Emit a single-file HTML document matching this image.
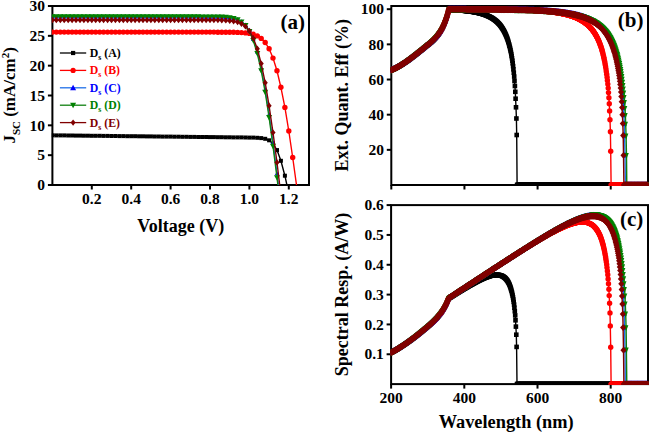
<!DOCTYPE html>
<html><head><meta charset="utf-8"><style>html,body{margin:0;padding:0;background:#fff;width:649px;height:433px;overflow:hidden}svg{display:block}</style></head>
<body><svg width="649" height="433" viewBox="0 0 649 433">
<rect width="649" height="433" fill="#fff"/>
<defs><clipPath id="ca"><rect x="51.8" y="1" width="597.2" height="184.8"/></clipPath><clipPath id="cb"><rect x="390.7" y="1" width="258.3" height="184.8"/></clipPath><clipPath id="cc"><rect x="390.5" y="200.1" width="258.5" height="184.8"/></clipPath><marker id="mA" markerUnits="userSpaceOnUse" markerWidth="6.6" markerHeight="6.6" refX="3.3" refY="3.3" overflow="visible"><rect x="1" y="1" width="4.6" height="4.6" fill="#000000"/></marker><marker id="maA" markerUnits="userSpaceOnUse" markerWidth="6" markerHeight="6" refX="3" refY="3" overflow="visible"><rect x="1" y="1" width="4" height="4" fill="#000000"/></marker><marker id="mB" markerUnits="userSpaceOnUse" markerWidth="7.4" markerHeight="7.4" refX="3.7" refY="3.7" overflow="visible"><circle cx="3.7" cy="3.7" r="2.7" fill="#ff0000"/></marker><marker id="maB" markerUnits="userSpaceOnUse" markerWidth="7.4" markerHeight="7.4" refX="3.7" refY="3.7" overflow="visible"><circle cx="3.7" cy="3.7" r="2.7" fill="#ff0000"/></marker><marker id="mC" markerUnits="userSpaceOnUse" markerWidth="9.2" markerHeight="9.2" refX="4.6" refY="4.6" overflow="visible"><path d="M4.6 1L6.83 6.76L2.37 6.76Z" fill="#0000ff"/></marker><marker id="maC" markerUnits="userSpaceOnUse" markerWidth="6.6" markerHeight="6.6" refX="3.3" refY="3.3" overflow="visible"><path d="M3.3 1L5.6 5.14L1 5.14Z" fill="#0000ff"/></marker><marker id="mD" markerUnits="userSpaceOnUse" markerWidth="9.4" markerHeight="9.4" refX="4.7" refY="4.7" overflow="visible"><path d="M4.7 8.4L6.99 2.48L2.41 2.48Z" fill="#008000"/></marker><marker id="maD" markerUnits="userSpaceOnUse" markerWidth="8" markerHeight="8" refX="4" refY="4" overflow="visible"><path d="M4 7L7 1.6L1 1.6Z" fill="#008000"/></marker><marker id="mE" markerUnits="userSpaceOnUse" markerWidth="8.8" markerHeight="8.8" refX="4.4" refY="4.4" overflow="visible"><path d="M4.4 1L7.46 4.4L4.4 7.8L1.34 4.4Z" fill="#800000"/></marker><marker id="maE" markerUnits="userSpaceOnUse" markerWidth="8.4" markerHeight="8.4" refX="4.2" refY="4.2" overflow="visible"><path d="M4.2 1L6.76 4.2L4.2 7.4L1.64 4.2Z" fill="#800000"/></marker></defs>
<rect x="52.4" y="6.0" width="256.6" height="179" fill="none" stroke="#000" stroke-width="2"/>
<rect x="391.3" y="6.0" width="256.7" height="179" fill="none" stroke="#000" stroke-width="2"/>
<rect x="391.1" y="205.1" width="256.9" height="179" fill="none" stroke="#000" stroke-width="2"/>
<line x1="47.9" y1="185" x2="52.4" y2="185" stroke="#000" stroke-width="2"/>
<text x="45.1" y="190.2" text-anchor="end" style="font-family:'Liberation Serif',serif;font-weight:bold;font-size:15.5px">0</text>
<line x1="47.9" y1="155.17" x2="52.4" y2="155.17" stroke="#000" stroke-width="2"/>
<text x="45.1" y="160.37" text-anchor="end" style="font-family:'Liberation Serif',serif;font-weight:bold;font-size:15.5px">5</text>
<line x1="47.9" y1="125.33" x2="52.4" y2="125.33" stroke="#000" stroke-width="2"/>
<text x="45.1" y="130.53" text-anchor="end" style="font-family:'Liberation Serif',serif;font-weight:bold;font-size:15.5px">10</text>
<line x1="47.9" y1="95.5" x2="52.4" y2="95.5" stroke="#000" stroke-width="2"/>
<text x="45.1" y="100.7" text-anchor="end" style="font-family:'Liberation Serif',serif;font-weight:bold;font-size:15.5px">15</text>
<line x1="47.9" y1="65.67" x2="52.4" y2="65.67" stroke="#000" stroke-width="2"/>
<text x="45.1" y="70.87" text-anchor="end" style="font-family:'Liberation Serif',serif;font-weight:bold;font-size:15.5px">20</text>
<line x1="47.9" y1="35.83" x2="52.4" y2="35.83" stroke="#000" stroke-width="2"/>
<text x="45.1" y="41.03" text-anchor="end" style="font-family:'Liberation Serif',serif;font-weight:bold;font-size:15.5px">25</text>
<line x1="47.9" y1="6" x2="52.4" y2="6" stroke="#000" stroke-width="2"/>
<text x="45.1" y="11.2" text-anchor="end" style="font-family:'Liberation Serif',serif;font-weight:bold;font-size:15.5px">30</text>
<line x1="91.8" y1="185.0" x2="91.8" y2="189.5" stroke="#000" stroke-width="2"/>
<text x="91.8" y="204.2" text-anchor="middle" style="font-family:'Liberation Serif',serif;font-weight:bold;font-size:15.5px">0.2</text>
<line x1="131.2" y1="185.0" x2="131.2" y2="189.5" stroke="#000" stroke-width="2"/>
<text x="131.2" y="204.2" text-anchor="middle" style="font-family:'Liberation Serif',serif;font-weight:bold;font-size:15.5px">0.4</text>
<line x1="170.6" y1="185.0" x2="170.6" y2="189.5" stroke="#000" stroke-width="2"/>
<text x="170.6" y="204.2" text-anchor="middle" style="font-family:'Liberation Serif',serif;font-weight:bold;font-size:15.5px">0.6</text>
<line x1="210" y1="185.0" x2="210" y2="189.5" stroke="#000" stroke-width="2"/>
<text x="210" y="204.2" text-anchor="middle" style="font-family:'Liberation Serif',serif;font-weight:bold;font-size:15.5px">0.8</text>
<line x1="249.4" y1="185.0" x2="249.4" y2="189.5" stroke="#000" stroke-width="2"/>
<text x="249.4" y="204.2" text-anchor="middle" style="font-family:'Liberation Serif',serif;font-weight:bold;font-size:15.5px">1.0</text>
<line x1="288.8" y1="185.0" x2="288.8" y2="189.5" stroke="#000" stroke-width="2"/>
<text x="288.8" y="204.2" text-anchor="middle" style="font-family:'Liberation Serif',serif;font-weight:bold;font-size:15.5px">1.2</text>
<line x1="386.8" y1="149.84" x2="391.3" y2="149.84" stroke="#000" stroke-width="2"/>
<text x="384" y="155.04" text-anchor="end" style="font-family:'Liberation Serif',serif;font-weight:bold;font-size:15.5px">20</text>
<line x1="386.8" y1="114.68" x2="391.3" y2="114.68" stroke="#000" stroke-width="2"/>
<text x="384" y="119.88" text-anchor="end" style="font-family:'Liberation Serif',serif;font-weight:bold;font-size:15.5px">40</text>
<line x1="386.8" y1="79.52" x2="391.3" y2="79.52" stroke="#000" stroke-width="2"/>
<text x="384" y="84.72" text-anchor="end" style="font-family:'Liberation Serif',serif;font-weight:bold;font-size:15.5px">60</text>
<line x1="386.8" y1="44.36" x2="391.3" y2="44.36" stroke="#000" stroke-width="2"/>
<text x="384" y="49.56" text-anchor="end" style="font-family:'Liberation Serif',serif;font-weight:bold;font-size:15.5px">80</text>
<line x1="386.8" y1="9.2" x2="391.3" y2="9.2" stroke="#000" stroke-width="2"/>
<text x="384" y="14.4" text-anchor="end" style="font-family:'Liberation Serif',serif;font-weight:bold;font-size:15.5px">100</text>
<line x1="391.3" y1="185.0" x2="391.3" y2="189.5" stroke="#000" stroke-width="2"/>
<line x1="464.44" y1="185.0" x2="464.44" y2="189.5" stroke="#000" stroke-width="2"/>
<line x1="537.59" y1="185.0" x2="537.59" y2="189.5" stroke="#000" stroke-width="2"/>
<line x1="610.73" y1="185.0" x2="610.73" y2="189.5" stroke="#000" stroke-width="2"/>
<line x1="386.6" y1="354.27" x2="391.1" y2="354.27" stroke="#000" stroke-width="2"/>
<text x="383.8" y="359.47" text-anchor="end" style="font-family:'Liberation Serif',serif;font-weight:bold;font-size:15.5px">0.1</text>
<line x1="386.6" y1="324.43" x2="391.1" y2="324.43" stroke="#000" stroke-width="2"/>
<text x="383.8" y="329.63" text-anchor="end" style="font-family:'Liberation Serif',serif;font-weight:bold;font-size:15.5px">0.2</text>
<line x1="386.6" y1="294.6" x2="391.1" y2="294.6" stroke="#000" stroke-width="2"/>
<text x="383.8" y="299.8" text-anchor="end" style="font-family:'Liberation Serif',serif;font-weight:bold;font-size:15.5px">0.3</text>
<line x1="386.6" y1="264.77" x2="391.1" y2="264.77" stroke="#000" stroke-width="2"/>
<text x="383.8" y="269.97" text-anchor="end" style="font-family:'Liberation Serif',serif;font-weight:bold;font-size:15.5px">0.4</text>
<line x1="386.6" y1="234.93" x2="391.1" y2="234.93" stroke="#000" stroke-width="2"/>
<text x="383.8" y="240.13" text-anchor="end" style="font-family:'Liberation Serif',serif;font-weight:bold;font-size:15.5px">0.5</text>
<line x1="386.6" y1="205.1" x2="391.1" y2="205.1" stroke="#000" stroke-width="2"/>
<text x="383.8" y="210.3" text-anchor="end" style="font-family:'Liberation Serif',serif;font-weight:bold;font-size:15.5px">0.6</text>
<line x1="391.1" y1="384.1" x2="391.1" y2="388.6" stroke="#000" stroke-width="2"/>
<text x="391.1" y="403.3" text-anchor="middle" style="font-family:'Liberation Serif',serif;font-weight:bold;font-size:15.5px">200</text>
<line x1="464.3" y1="384.1" x2="464.3" y2="388.6" stroke="#000" stroke-width="2"/>
<text x="464.3" y="403.3" text-anchor="middle" style="font-family:'Liberation Serif',serif;font-weight:bold;font-size:15.5px">400</text>
<line x1="537.5" y1="384.1" x2="537.5" y2="388.6" stroke="#000" stroke-width="2"/>
<text x="537.5" y="403.3" text-anchor="middle" style="font-family:'Liberation Serif',serif;font-weight:bold;font-size:15.5px">600</text>
<line x1="610.7" y1="384.1" x2="610.7" y2="388.6" stroke="#000" stroke-width="2"/>
<text x="610.7" y="403.3" text-anchor="middle" style="font-family:'Liberation Serif',serif;font-weight:bold;font-size:15.5px">800</text>
<g clip-path="url(#ca)">
<path d="M52.4 135.3 56.3 135.4 60.3 135.4 64.2 135.4 68.2 135.5 72.1 135.5 76 135.6 80 135.6 83.9 135.7 87.9 135.7 91.8 135.8 95.7 135.8 99.7 135.8 103.6 135.9 107.6 135.9 111.5 136 115.4 136 119.4 136.1 123.3 136.1 127.3 136.2 131.2 136.2 135.1 136.2 139.1 136.3 143 136.3 147 136.4 150.9 136.4 154.8 136.5 158.8 136.5 162.7 136.6 166.7 136.6 170.6 136.6 174.5 136.7 178.5 136.7 182.4 136.8 186.4 136.8 190.3 136.9 194.2 136.9 198.2 137 202.1 137 206.1 137 210 137.1 213.9 137.1 217.9 137.2 221.8 137.2 225.8 137.3 229.7 137.3 233.6 137.4 237.6 137.4 241.5 137.4 245.5 137.5 249.4 137.6 253.3 137.6 257.3 137.8 261.2 138.1 265.2 138.8 269.1 140.3 273 143.7 277 150.1 280.9 160.8 284.9 175.7 286.9 185" fill="none" stroke="#000000" stroke-width="1.4" marker-start="url(#maA)" marker-mid="url(#maA)"/>
<path d="M52.4 32.1 56.3 32.1 60.3 32.1 64.2 32.1 68.2 32.1 72.1 32.1 76 32.1 80 32.1 83.9 32.1 87.9 32.1 91.8 32.1 95.7 32.1 99.7 32.1 103.6 32.1 107.6 32.1 111.5 32.1 115.4 32.1 119.4 32.1 123.3 32.1 127.3 32.1 131.2 32.1 135.1 32.1 139.1 32.1 143 32.1 147 32.1 150.9 32.1 154.8 32.1 158.8 32.1 162.7 32.1 166.7 32.1 170.6 32.1 174.5 32.1 178.5 32.1 182.4 32.1 186.4 32.1 190.3 32.1 194.2 32.1 198.2 32.1 202.1 32.1 206.1 32.1 210 32.1 213.9 32.1 217.9 32.2 221.8 32.2 225.8 32.2 229.7 32.2 233.6 32.3 237.6 32.4 241.5 32.6 245.5 32.9 249.4 33.4 253.3 34.3 257.3 35.9 261.2 38.4 265.2 42.5 269.1 48.8 273 58.1 277 70.8 280.9 87.3 284.9 107.4 288.8 131 292.7 157.5 296.5 185" fill="none" stroke="#ff0000" stroke-width="1.4" marker-start="url(#maB)" marker-mid="url(#maB)"/>
<path d="M52.4 16.7 56.3 16.7 60.3 16.7 64.2 16.7 68.2 16.7 72.1 16.7 76 16.7 80 16.7 83.9 16.7 87.9 16.7 91.8 16.7 95.7 16.7 99.7 16.7 103.6 16.7 107.6 16.7 111.5 16.7 115.4 16.7 119.4 16.7 123.3 16.7 127.3 16.7 131.2 16.7 135.1 16.7 139.1 16.7 143 16.7 147 16.7 150.9 16.7 154.8 16.7 158.8 16.7 162.7 16.7 166.7 16.7 170.6 16.7 174.5 16.7 178.5 16.7 182.4 16.7 186.4 16.7 190.3 16.7 194.2 16.7 198.2 16.7 202.1 16.8 206.1 16.8 210 16.8 213.9 16.8 217.9 16.9 221.8 17 225.8 17.2 229.7 17.6 233.6 18.2 237.6 19.4 241.5 21.5 245.5 24.9 249.4 30.5 253.3 39.2 257.3 51.6 261.2 68.3 265.2 89.3 269.1 114.2 273 142.4 277 173.5 278.4 185" fill="none" stroke="#1f6fe8" stroke-width="1.4" marker-start="url(#maC)" marker-mid="url(#maC)"/>
<path d="M52.4 16.7 56.3 16.7 60.3 16.7 64.2 16.7 68.2 16.7 72.1 16.7 76 16.7 80 16.7 83.9 16.7 87.9 16.7 91.8 16.7 95.7 16.7 99.7 16.7 103.6 16.7 107.6 16.7 111.5 16.7 115.4 16.7 119.4 16.7 123.3 16.7 127.3 16.7 131.2 16.7 135.1 16.7 139.1 16.7 143 16.7 147 16.7 150.9 16.7 154.8 16.7 158.8 16.7 162.7 16.7 166.7 16.7 170.6 16.7 174.5 16.7 178.5 16.7 182.4 16.7 186.4 16.7 190.3 16.7 194.2 16.7 198.2 16.7 202.1 16.8 206.1 16.8 210 16.8 213.9 16.8 217.9 16.9 221.8 17 225.8 17.2 229.7 17.6 233.6 18.4 237.6 19.6 241.5 21.8 245.5 25.5 249.4 31.4 253.3 40.5 257.3 53.5 261.2 70.7 265.2 92.2 269.1 117.5 273 146.2 277 177.6 277.9 185" fill="none" stroke="#108010" stroke-width="1.4" marker-start="url(#maD)" marker-mid="url(#maD)"/>
<path d="M52.4 20 56.3 20 60.3 20 64.2 20 68.2 20 72.1 20 76 20 80 20 83.9 20 87.9 20 91.8 20 95.7 20 99.7 20 103.6 20 107.6 20 111.5 20 115.4 20 119.4 20 123.3 20 127.3 20 131.2 20 135.1 20 139.1 20 143 20 147 20 150.9 20 154.8 20 158.8 20 162.7 20 166.7 20 170.6 20 174.5 20 178.5 20 182.4 20 186.4 20 190.3 20 194.2 20 198.2 20 202.1 20 206.1 20 210 20.1 213.9 20.1 217.9 20.1 221.8 20.2 225.8 20.4 229.7 20.7 233.6 21.2 237.6 22.1 241.5 23.7 245.5 26.4 249.4 30.9 253.3 38.1 257.3 48.8 261.2 63.6 265.2 82.7 269.1 105.8 273 132.6 277 162.5 279.7 185" fill="none" stroke="#800000" stroke-width="1.4" marker-start="url(#maE)" marker-mid="url(#maE)"/>
</g>
<g clip-path="url(#cb)">
<path d="M391.3 70 391.7 69.9 392 69.7 392.4 69.6 392.8 69.4 393.1 69.3 393.5 69.1 393.9 68.9 394.2 68.8 394.6 68.6 395 68.4 395.3 68.2 395.7 68 396.1 67.9 396.4 67.7 396.8 67.5 397.2 67.3 397.5 67.1 397.9 66.9 398.2 66.7 398.6 66.5 399 66.3 399.3 66.1 399.7 65.8 400.1 65.6 400.4 65.4 400.8 65.2 401.2 65 401.5 64.7 401.9 64.5 402.3 64.3 402.6 64.1 403 63.8 403.4 63.6 403.7 63.3 404.1 63.1 404.5 62.9 404.8 62.6 405.2 62.4 405.6 62.1 405.9 61.9 406.3 61.6 406.7 61.4 407 61.1 407.4 60.9 407.8 60.6 408.1 60.3 408.5 60.1 408.9 59.8 409.2 59.5 409.6 59.3 410 59 410.3 58.7 410.7 58.5 411 58.2 411.4 57.9 411.8 57.6 412.1 57.4 412.5 57.1 412.9 56.8 413.2 56.5 413.6 56.2 414 56 414.3 55.7 414.7 55.4 415.1 55.1 415.4 54.8 415.8 54.5 416.2 54.2 416.5 54 416.9 53.7 417.3 53.4 417.6 53.1 418 52.8 418.4 52.5 418.7 52.2 419.1 51.9 419.5 51.6 419.8 51.3 420.2 51 420.6 50.7 420.9 50.5 421.3 50.2 421.7 49.9 422 49.6 422.4 49.3 422.8 49 423.1 48.7 423.5 48.4 423.8 48.1 424.2 47.8 424.6 47.5 424.9 47.2 425.3 46.9 425.7 46.6 426 46.3 426.4 46 426.8 45.7 427.1 45.4 427.5 45.1 427.9 44.8 428.2 44.6 428.6 44.3 429 44 429.3 43.7 429.7 43.4 430.1 43.1 430.4 42.7 430.8 42.4 431.2 42.1 431.5 41.8 431.9 41.5 432.3 41.1 432.6 40.8 433 40.5 433.4 40.1 433.7 39.8 434.1 39.4 434.5 39 434.8 38.6 435.2 38.2 435.6 37.8 435.9 37.4 436.3 37 436.6 36.6 437 36.2 437.4 35.7 437.7 35.3 438.1 34.8 438.5 34.3 438.8 33.8 439.2 33.3 439.6 32.8 439.9 32.2 440.3 31.6 440.7 31.1 441 30.5 441.4 29.8 441.8 29.2 442.1 28.5 442.5 27.8 442.9 27.1 443.2 26.3 443.6 25.5 444 24.7 444.3 23.8 444.7 23 445.1 22 445.4 21.1 445.8 20.1 446.2 19 446.5 18 446.9 16.8 447.3 15.6 447.6 14.3 448 13 448.4 11.5 448.7 9.8 449.1 9.8 449.4 9.8 449.8 9.8 450.2 9.9 450.5 9.9 450.9 9.9 451.3 9.9 451.6 9.9 452 9.9 452.4 10 452.7 10 453.1 10 453.5 10 453.8 10 454.2 10 454.6 10.1 454.9 10.1 455.3 10.1 455.7 10.1 456 10.1 456.4 10.2 456.8 10.2 457.1 10.2 457.5 10.2 457.9 10.3 458.2 10.3 458.6 10.3 459 10.3 459.3 10.4 459.7 10.4 460.1 10.4 460.4 10.4 460.8 10.5 461.2 10.5 461.5 10.5 461.9 10.6 462.2 10.6 462.6 10.6 463 10.6 463.3 10.7 463.7 10.7 464.1 10.7 464.4 10.8 464.8 10.8 465.2 10.9 465.5 10.9 465.9 10.9 466.3 11 466.6 11 467 11 467.4 11.1 467.7 11.1 468.1 11.2 468.5 11.2 468.8 11.3 469.2 11.3 469.6 11.4 469.9 11.4 470.3 11.5 470.7 11.5 471 11.6 471.4 11.6 471.8 11.7 472.1 11.7 472.5 11.8 472.9 11.8 473.2 11.9 473.6 12 474 12 474.3 12.1 474.7 12.2 475 12.2 475.4 12.3 475.8 12.4 476.1 12.4 476.5 12.5 476.9 12.6 477.2 12.7 477.6 12.7 478 12.8 478.3 12.9 478.7 13 479.1 13.1 479.4 13.2 479.8 13.2 480.2 13.3 480.5 13.4 480.9 13.5 481.3 13.6 481.6 13.7 482 13.8 482.4 14 482.7 14.1 483.1 14.2 483.5 14.3 483.8 14.4 484.2 14.5 484.6 14.7 484.9 14.8 485.3 14.9 485.7 15.1 486 15.2 486.4 15.3 486.8 15.5 487.1 15.6 487.5 15.8 487.8 16 488.2 16.1 488.6 16.3 488.9 16.5 489.3 16.6 489.7 16.8 490 17 490.4 17.2 490.8 17.4 491.1 17.6 491.5 17.8 491.9 18 492.2 18.2 492.6 18.5 493 18.7 493.3 19 493.7 19.2 494.1 19.5 494.4 19.7 494.8 20 495.2 20.3 495.5 20.6 495.9 20.9 496.3 21.2 496.6 21.5 497 21.8 497.4 22.2 497.7 22.5 498.1 22.9 498.5 23.3 498.8 23.7 499.2 24.1 499.6 24.5 499.9 24.9 500.3 25.4 500.6 25.8 501 26.3 501.4 26.8 501.7 27.4 502.1 27.9 502.5 28.5 502.8 29 503.2 29.7 503.6 30.3 503.9 31 504.3 31.6 504.7 32.4 505 33.1 505.4 33.9 505.8 34.7 506.1 35.6 506.5 36.5 506.9 37.4 507.2 38.4 507.6 39.5 508 40.6 508.3 41.8 508.7 43 509.1 44.3 509.4 45.7 509.8 47.1 510.2 48.7 510.5 50.4 510.9 52.1 511.3 54 511.6 56.1 512 58.3 512.4 60.7 512.7 63.3 513.1 66.1 513.4 69.3 513.8 72.7 514.2 76.6 514.5 81 514.9 86 515.3 91.8 515.6 98.7 516 107.3 516.4 118.5 516.7 135 517.1 185 517.5 185 517.8 185 518.2 185 518.6 185 518.9 185 519.3 185 519.7 185 520 185 520.4 185 520.8 185 521.1 185 521.5 185 521.9 185 522.2 185 522.6 185 523 185 523.3 185 523.7 185 524.1 185 524.4 185 524.8 185 525.2 185 525.5 185 525.9 185 526.2 185 526.6 185 527 185 527.3 185 527.7 185 528.1 185 528.4 185 528.8 185 529.2 185 529.5 185 529.9 185 530.3 185 530.6 185 531 185 531.4 185 531.7 185 532.1 185 532.5 185 532.8 185 533.2 185 533.6 185 533.9 185 534.3 185 534.7 185 535 185 535.4 185 535.8 185 536.1 185 536.5 185 536.9 185 537.2 185 537.6 185 538 185 538.3 185 538.7 185 539 185 539.4 185 539.8 185 540.1 185 540.5 185 540.9 185 541.2 185 541.6 185 542 185 542.3 185 542.7 185 543.1 185 543.4 185 543.8 185 544.2 185 544.5 185 544.9 185 545.3 185 545.6 185 546 185 546.4 185 546.7 185 547.1 185 547.5 185 547.8 185 548.2 185 548.6 185 548.9 185 549.3 185 549.7 185 550 185 550.4 185 550.8 185 551.1 185 551.5 185 551.8 185 552.2 185 552.6 185 552.9 185 553.3 185 553.7 185 554 185 554.4 185 554.8 185 555.1 185 555.5 185 555.9 185 556.2 185 556.6 185 557 185 557.3 185 557.7 185 558.1 185 558.4 185 558.8 185 559.2 185 559.5 185 559.9 185 560.3 185 560.6 185 561 185 561.4 185 561.7 185 562.1 185 562.5 185 562.8 185 563.2 185 563.6 185 563.9 185 564.3 185 564.6 185 565 185 565.4 185 565.7 185 566.1 185 566.5 185 566.8 185 567.2 185 567.6 185 567.9 185 568.3 185 568.7 185 569 185 569.4 185 569.8 185 570.1 185 570.5 185 570.9 185 571.2 185 571.6 185 572 185 572.3 185 572.7 185 573.1 185 573.4 185 573.8 185 574.2 185 574.5 185 574.9 185 575.3 185 575.6 185 576 185 576.4 185 576.7 185 577.1 185 577.4 185 577.8 185 578.2 185 578.5 185 578.9 185 579.3 185 579.6 185 580 185 580.4 185 580.7 185 581.1 185 581.5 185 581.8 185 582.2 185 582.6 185 582.9 185 583.3 185 583.7 185 584 185 584.4 185 584.8 185 585.1 185 585.5 185 585.9 185 586.2 185 586.6 185 587 185 587.3 185 587.7 185 588.1 185 588.4 185 588.8 185 589.2 185 589.5 185 589.9 185 590.2 185 590.6 185 591 185 591.3 185 591.7 185 592.1 185 592.4 185 592.8 185 593.2 185 593.5 185 593.9 185 594.3 185 594.6 185 595 185 595.4 185 595.7 185 596.1 185 596.5 185 596.8 185 597.2 185 597.6 185 597.9 185 598.3 185 598.7 185 599 185 599.4 185 599.8 185 600.1 185 600.5 185 600.9 185 601.2 185 601.6 185 602 185 602.3 185 602.7 185 603 185 603.4 185 603.8 185 604.1 185 604.5 185 604.9 185 605.2 185 605.6 185 606 185 606.3 185 606.7 185 607.1 185 607.4 185 607.8 185 608.2 185 608.5 185 608.9 185 609.3 185 609.6 185 610 185 610.4 185 610.7 185 611.1 185 611.5 185 611.8 185 612.2 185 612.6 185 612.9 185 613.3 185 613.7 185 614 185 614.4 185 614.8 185 615.1 185 615.5 185 615.8 185 616.2 185 616.6 185 616.9 185 617.3 185 617.7 185 618 185 618.4 185 618.8 185 619.1 185 619.5 185 619.9 185 620.2 185 620.6 185 621 185 621.3 185 621.7 185 622.1 185 622.4 185 622.8 185 623.2 185 623.5 185 623.9 185 624.3 185 624.6 185 625 185 625.4 185 625.7 185 626.1 185 626.5 185 626.8 185 627.2 185 627.6 185 627.9 185 628.3 185 628.6 185 629 185 629.4 185 629.7 185 630.1 185 630.5 185 630.8 185 631.2 185 631.6 185 631.9 185 632.3 185 632.7 185 633 185 633.4 185 633.8 185 634.1 185 634.5 185 634.9 185 635.2 185 635.6 185 636 185 636.3 185 636.7 185 637.1 185 637.4 185 637.8 185 638.2 185 638.5 185 638.9 185 639.3 185 639.6 185 640 185 640.4 185 640.7 185 641.1 185 641.4 185 641.8 185 642.2 185 642.5 185 642.9 185 643.3 185 643.6 185 644 185 644.4 185 644.7 185 645.1 185 645.5 185 645.8 185 646.2 185 646.6 185 646.9 185 647.3 185" fill="none" stroke="#000000" stroke-width="1.4" marker-start="url(#mA)" marker-mid="url(#mA)" marker-end="url(#mA)"/>
<path d="M391.3 70 391.7 69.9 392 69.7 392.4 69.6 392.8 69.4 393.1 69.3 393.5 69.1 393.9 68.9 394.2 68.8 394.6 68.6 395 68.4 395.3 68.2 395.7 68 396.1 67.9 396.4 67.7 396.8 67.5 397.2 67.3 397.5 67.1 397.9 66.9 398.2 66.7 398.6 66.5 399 66.3 399.3 66.1 399.7 65.8 400.1 65.6 400.4 65.4 400.8 65.2 401.2 65 401.5 64.7 401.9 64.5 402.3 64.3 402.6 64 403 63.8 403.4 63.6 403.7 63.3 404.1 63.1 404.5 62.8 404.8 62.6 405.2 62.4 405.6 62.1 405.9 61.9 406.3 61.6 406.7 61.3 407 61.1 407.4 60.8 407.8 60.6 408.1 60.3 408.5 60 408.9 59.8 409.2 59.5 409.6 59.2 410 59 410.3 58.7 410.7 58.4 411 58.2 411.4 57.9 411.8 57.6 412.1 57.3 412.5 57.1 412.9 56.8 413.2 56.5 413.6 56.2 414 55.9 414.3 55.6 414.7 55.4 415.1 55.1 415.4 54.8 415.8 54.5 416.2 54.2 416.5 53.9 416.9 53.6 417.3 53.3 417.6 53 418 52.7 418.4 52.5 418.7 52.2 419.1 51.9 419.5 51.6 419.8 51.3 420.2 51 420.6 50.7 420.9 50.4 421.3 50.1 421.7 49.8 422 49.5 422.4 49.2 422.8 48.9 423.1 48.6 423.5 48.3 423.8 48 424.2 47.7 424.6 47.4 424.9 47.1 425.3 46.8 425.7 46.5 426 46.2 426.4 45.9 426.8 45.6 427.1 45.3 427.5 45 427.9 44.7 428.2 44.4 428.6 44.1 429 43.8 429.3 43.5 429.7 43.2 430.1 42.9 430.4 42.6 430.8 42.3 431.2 42 431.5 41.6 431.9 41.3 432.3 41 432.6 40.6 433 40.3 433.4 39.9 433.7 39.6 434.1 39.2 434.5 38.8 434.8 38.4 435.2 38 435.6 37.6 435.9 37.2 436.3 36.8 436.6 36.4 437 35.9 437.4 35.5 437.7 35 438.1 34.5 438.5 34 438.8 33.5 439.2 33 439.6 32.5 439.9 31.9 440.3 31.4 440.7 30.8 441 30.1 441.4 29.5 441.8 28.9 442.1 28.2 442.5 27.5 442.9 26.7 443.2 25.9 443.6 25.1 444 24.3 444.3 23.4 444.7 22.5 445.1 21.6 445.4 20.6 445.8 19.6 446.2 18.6 446.5 17.5 446.9 16.3 447.3 15.1 447.6 13.8 448 12.4 448.4 10.9 448.7 9.2 449.1 9.2 449.4 9.2 449.8 9.2 450.2 9.2 450.5 9.2 450.9 9.2 451.3 9.2 451.6 9.2 452 9.2 452.4 9.2 452.7 9.2 453.1 9.2 453.5 9.2 453.8 9.2 454.2 9.2 454.6 9.2 454.9 9.2 455.3 9.2 455.7 9.2 456 9.2 456.4 9.2 456.8 9.2 457.1 9.2 457.5 9.2 457.9 9.2 458.2 9.2 458.6 9.2 459 9.2 459.3 9.2 459.7 9.2 460.1 9.2 460.4 9.2 460.8 9.2 461.2 9.2 461.5 9.2 461.9 9.2 462.2 9.2 462.6 9.2 463 9.2 463.3 9.2 463.7 9.2 464.1 9.2 464.4 9.2 464.8 9.2 465.2 9.2 465.5 9.3 465.9 9.3 466.3 9.3 466.6 9.3 467 9.3 467.4 9.3 467.7 9.3 468.1 9.3 468.5 9.3 468.8 9.3 469.2 9.3 469.6 9.3 469.9 9.3 470.3 9.3 470.7 9.3 471 9.3 471.4 9.3 471.8 9.3 472.1 9.3 472.5 9.3 472.9 9.3 473.2 9.3 473.6 9.3 474 9.3 474.3 9.3 474.7 9.3 475 9.3 475.4 9.3 475.8 9.3 476.1 9.3 476.5 9.3 476.9 9.3 477.2 9.3 477.6 9.3 478 9.3 478.3 9.3 478.7 9.3 479.1 9.3 479.4 9.3 479.8 9.3 480.2 9.3 480.5 9.3 480.9 9.3 481.3 9.3 481.6 9.3 482 9.3 482.4 9.3 482.7 9.3 483.1 9.3 483.5 9.3 483.8 9.3 484.2 9.3 484.6 9.3 484.9 9.3 485.3 9.3 485.7 9.3 486 9.3 486.4 9.3 486.8 9.4 487.1 9.4 487.5 9.4 487.8 9.4 488.2 9.4 488.6 9.4 488.9 9.4 489.3 9.4 489.7 9.4 490 9.4 490.4 9.4 490.8 9.4 491.1 9.4 491.5 9.4 491.9 9.4 492.2 9.4 492.6 9.4 493 9.4 493.3 9.4 493.7 9.4 494.1 9.4 494.4 9.4 494.8 9.4 495.2 9.4 495.5 9.4 495.9 9.4 496.3 9.4 496.6 9.4 497 9.4 497.4 9.5 497.7 9.5 498.1 9.5 498.5 9.5 498.8 9.5 499.2 9.5 499.6 9.5 499.9 9.5 500.3 9.5 500.6 9.5 501 9.5 501.4 9.5 501.7 9.5 502.1 9.5 502.5 9.5 502.8 9.5 503.2 9.5 503.6 9.5 503.9 9.5 504.3 9.6 504.7 9.6 505 9.6 505.4 9.6 505.8 9.6 506.1 9.6 506.5 9.6 506.9 9.6 507.2 9.6 507.6 9.6 508 9.6 508.3 9.6 508.7 9.6 509.1 9.6 509.4 9.6 509.8 9.7 510.2 9.7 510.5 9.7 510.9 9.7 511.3 9.7 511.6 9.7 512 9.7 512.4 9.7 512.7 9.7 513.1 9.7 513.4 9.7 513.8 9.7 514.2 9.7 514.5 9.8 514.9 9.8 515.3 9.8 515.6 9.8 516 9.8 516.4 9.8 516.7 9.8 517.1 9.8 517.5 9.8 517.8 9.8 518.2 9.9 518.6 9.9 518.9 9.9 519.3 9.9 519.7 9.9 520 9.9 520.4 9.9 520.8 9.9 521.1 9.9 521.5 10 521.9 10 522.2 10 522.6 10 523 10 523.3 10 523.7 10 524.1 10 524.4 10.1 524.8 10.1 525.2 10.1 525.5 10.1 525.9 10.1 526.2 10.1 526.6 10.1 527 10.2 527.3 10.2 527.7 10.2 528.1 10.2 528.4 10.2 528.8 10.2 529.2 10.3 529.5 10.3 529.9 10.3 530.3 10.3 530.6 10.3 531 10.3 531.4 10.4 531.7 10.4 532.1 10.4 532.5 10.4 532.8 10.4 533.2 10.5 533.6 10.5 533.9 10.5 534.3 10.5 534.7 10.5 535 10.6 535.4 10.6 535.8 10.6 536.1 10.6 536.5 10.7 536.9 10.7 537.2 10.7 537.6 10.7 538 10.7 538.3 10.8 538.7 10.8 539 10.8 539.4 10.8 539.8 10.9 540.1 10.9 540.5 10.9 540.9 11 541.2 11 541.6 11 542 11 542.3 11.1 542.7 11.1 543.1 11.1 543.4 11.2 543.8 11.2 544.2 11.2 544.5 11.3 544.9 11.3 545.3 11.3 545.6 11.4 546 11.4 546.4 11.4 546.7 11.5 547.1 11.5 547.5 11.5 547.8 11.6 548.2 11.6 548.6 11.6 548.9 11.7 549.3 11.7 549.7 11.8 550 11.8 550.4 11.9 550.8 11.9 551.1 11.9 551.5 12 551.8 12 552.2 12.1 552.6 12.1 552.9 12.2 553.3 12.2 553.7 12.3 554 12.3 554.4 12.4 554.8 12.4 555.1 12.5 555.5 12.5 555.9 12.6 556.2 12.6 556.6 12.7 557 12.7 557.3 12.8 557.7 12.9 558.1 12.9 558.4 13 558.8 13 559.2 13.1 559.5 13.2 559.9 13.2 560.3 13.3 560.6 13.4 561 13.4 561.4 13.5 561.7 13.6 562.1 13.7 562.5 13.7 562.8 13.8 563.2 13.9 563.6 14 563.9 14 564.3 14.1 564.6 14.2 565 14.3 565.4 14.4 565.7 14.5 566.1 14.6 566.5 14.6 566.8 14.7 567.2 14.8 567.6 14.9 567.9 15 568.3 15.1 568.7 15.2 569 15.3 569.4 15.4 569.8 15.5 570.1 15.7 570.5 15.8 570.9 15.9 571.2 16 571.6 16.1 572 16.2 572.3 16.4 572.7 16.5 573.1 16.6 573.4 16.7 573.8 16.9 574.2 17 574.5 17.2 574.9 17.3 575.3 17.4 575.6 17.6 576 17.7 576.4 17.9 576.7 18.1 577.1 18.2 577.4 18.4 577.8 18.6 578.2 18.7 578.5 18.9 578.9 19.1 579.3 19.3 579.6 19.5 580 19.7 580.4 19.9 580.7 20.1 581.1 20.3 581.5 20.5 581.8 20.7 582.2 20.9 582.6 21.1 582.9 21.4 583.3 21.6 583.7 21.8 584 22.1 584.4 22.4 584.8 22.6 585.1 22.9 585.5 23.2 585.9 23.4 586.2 23.7 586.6 24 587 24.3 587.3 24.6 587.7 25 588.1 25.3 588.4 25.6 588.8 26 589.2 26.3 589.5 26.7 589.9 27.1 590.2 27.5 590.6 27.9 591 28.3 591.3 28.7 591.7 29.1 592.1 29.6 592.4 30 592.8 30.5 593.2 31 593.5 31.5 593.9 32 594.3 32.6 594.6 33.1 595 33.7 595.4 34.3 595.7 34.9 596.1 35.6 596.5 36.2 596.8 36.9 597.2 37.6 597.6 38.4 597.9 39.1 598.3 39.9 598.7 40.8 599 41.6 599.4 42.5 599.8 43.4 600.1 44.4 600.5 45.4 600.9 46.5 601.2 47.6 601.6 48.8 602 50 602.3 51.3 602.7 52.6 603 54.1 603.4 55.6 603.8 57.2 604.1 58.8 604.5 60.6 604.9 62.5 605.2 64.6 605.6 66.7 606 69.1 606.3 71.6 606.7 74.3 607.1 77.3 607.4 80.5 607.8 84.1 608.2 88.1 608.5 92.6 608.9 97.8 609.3 103.8 609.6 110.9 610 119.8 610.4 131.8 610.7 151.3 611.1 185 611.5 185 611.8 185 612.2 185 612.6 185 612.9 185 613.3 185 613.7 185 614 185 614.4 185 614.8 185 615.1 185 615.5 185 615.8 185 616.2 185 616.6 185 616.9 185 617.3 185 617.7 185 618 185 618.4 185 618.8 185 619.1 185 619.5 185 619.9 185 620.2 185 620.6 185 621 185 621.3 185 621.7 185 622.1 185 622.4 185 622.8 185 623.2 185 623.5 185 623.9 185 624.3 185 624.6 185 625 185 625.4 185 625.7 185 626.1 185 626.5 185 626.8 185 627.2 185 627.6 185 627.9 185 628.3 185 628.6 185 629 185 629.4 185 629.7 185 630.1 185 630.5 185 630.8 185 631.2 185 631.6 185 631.9 185 632.3 185 632.7 185 633 185 633.4 185 633.8 185 634.1 185 634.5 185 634.9 185 635.2 185 635.6 185 636 185 636.3 185 636.7 185 637.1 185 637.4 185 637.8 185 638.2 185 638.5 185 638.9 185 639.3 185 639.6 185 640 185 640.4 185 640.7 185 641.1 185 641.4 185 641.8 185 642.2 185 642.5 185 642.9 185 643.3 185 643.6 185 644 185 644.4 185 644.7 185 645.1 185 645.5 185 645.8 185 646.2 185 646.6 185 646.9 185 647.3 185" fill="none" stroke="#ff0000" stroke-width="1.4" marker-start="url(#mB)" marker-mid="url(#mB)" marker-end="url(#mB)"/>
<path d="M391.3 70 391.7 69.9 392 69.7 392.4 69.6 392.8 69.4 393.1 69.3 393.5 69.1 393.9 68.9 394.2 68.8 394.6 68.6 395 68.4 395.3 68.2 395.7 68 396.1 67.9 396.4 67.7 396.8 67.5 397.2 67.3 397.5 67.1 397.9 66.9 398.2 66.7 398.6 66.5 399 66.3 399.3 66.1 399.7 65.8 400.1 65.6 400.4 65.4 400.8 65.2 401.2 65 401.5 64.7 401.9 64.5 402.3 64.3 402.6 64 403 63.8 403.4 63.6 403.7 63.3 404.1 63.1 404.5 62.8 404.8 62.6 405.2 62.4 405.6 62.1 405.9 61.9 406.3 61.6 406.7 61.3 407 61.1 407.4 60.8 407.8 60.6 408.1 60.3 408.5 60 408.9 59.8 409.2 59.5 409.6 59.2 410 59 410.3 58.7 410.7 58.4 411 58.2 411.4 57.9 411.8 57.6 412.1 57.3 412.5 57.1 412.9 56.8 413.2 56.5 413.6 56.2 414 55.9 414.3 55.6 414.7 55.4 415.1 55.1 415.4 54.8 415.8 54.5 416.2 54.2 416.5 53.9 416.9 53.6 417.3 53.3 417.6 53 418 52.7 418.4 52.5 418.7 52.2 419.1 51.9 419.5 51.6 419.8 51.3 420.2 51 420.6 50.7 420.9 50.4 421.3 50.1 421.7 49.8 422 49.5 422.4 49.2 422.8 48.9 423.1 48.6 423.5 48.3 423.8 48 424.2 47.7 424.6 47.4 424.9 47.1 425.3 46.8 425.7 46.5 426 46.2 426.4 45.9 426.8 45.6 427.1 45.3 427.5 45 427.9 44.7 428.2 44.4 428.6 44.1 429 43.8 429.3 43.5 429.7 43.2 430.1 42.9 430.4 42.6 430.8 42.3 431.2 42 431.5 41.6 431.9 41.3 432.3 41 432.6 40.6 433 40.3 433.4 39.9 433.7 39.6 434.1 39.2 434.5 38.8 434.8 38.4 435.2 38 435.6 37.6 435.9 37.2 436.3 36.8 436.6 36.4 437 35.9 437.4 35.5 437.7 35 438.1 34.5 438.5 34 438.8 33.5 439.2 33 439.6 32.5 439.9 31.9 440.3 31.4 440.7 30.8 441 30.1 441.4 29.5 441.8 28.9 442.1 28.2 442.5 27.5 442.9 26.7 443.2 25.9 443.6 25.1 444 24.3 444.3 23.4 444.7 22.5 445.1 21.6 445.4 20.6 445.8 19.6 446.2 18.6 446.5 17.5 446.9 16.3 447.3 15.1 447.6 13.8 448 12.4 448.4 10.9 448.7 9.2 449.1 9.2 449.4 9.2 449.8 9.2 450.2 9.2 450.5 9.2 450.9 9.2 451.3 9.2 451.6 9.2 452 9.2 452.4 9.2 452.7 9.2 453.1 9.2 453.5 9.2 453.8 9.2 454.2 9.2 454.6 9.2 454.9 9.2 455.3 9.2 455.7 9.2 456 9.2 456.4 9.2 456.8 9.2 457.1 9.2 457.5 9.2 457.9 9.2 458.2 9.2 458.6 9.2 459 9.2 459.3 9.2 459.7 9.2 460.1 9.2 460.4 9.2 460.8 9.2 461.2 9.2 461.5 9.2 461.9 9.2 462.2 9.2 462.6 9.2 463 9.2 463.3 9.2 463.7 9.2 464.1 9.2 464.4 9.2 464.8 9.2 465.2 9.2 465.5 9.2 465.9 9.2 466.3 9.2 466.6 9.3 467 9.3 467.4 9.3 467.7 9.3 468.1 9.3 468.5 9.3 468.8 9.3 469.2 9.3 469.6 9.3 469.9 9.3 470.3 9.3 470.7 9.3 471 9.3 471.4 9.3 471.8 9.3 472.1 9.3 472.5 9.3 472.9 9.3 473.2 9.3 473.6 9.3 474 9.3 474.3 9.3 474.7 9.3 475 9.3 475.4 9.3 475.8 9.3 476.1 9.3 476.5 9.3 476.9 9.3 477.2 9.3 477.6 9.3 478 9.3 478.3 9.3 478.7 9.3 479.1 9.3 479.4 9.3 479.8 9.3 480.2 9.3 480.5 9.3 480.9 9.3 481.3 9.3 481.6 9.3 482 9.3 482.4 9.3 482.7 9.3 483.1 9.3 483.5 9.3 483.8 9.3 484.2 9.3 484.6 9.3 484.9 9.3 485.3 9.3 485.7 9.3 486 9.3 486.4 9.3 486.8 9.3 487.1 9.3 487.5 9.3 487.8 9.3 488.2 9.3 488.6 9.3 488.9 9.4 489.3 9.4 489.7 9.4 490 9.4 490.4 9.4 490.8 9.4 491.1 9.4 491.5 9.4 491.9 9.4 492.2 9.4 492.6 9.4 493 9.4 493.3 9.4 493.7 9.4 494.1 9.4 494.4 9.4 494.8 9.4 495.2 9.4 495.5 9.4 495.9 9.4 496.3 9.4 496.6 9.4 497 9.4 497.4 9.4 497.7 9.4 498.1 9.4 498.5 9.4 498.8 9.4 499.2 9.4 499.6 9.4 499.9 9.4 500.3 9.5 500.6 9.5 501 9.5 501.4 9.5 501.7 9.5 502.1 9.5 502.5 9.5 502.8 9.5 503.2 9.5 503.6 9.5 503.9 9.5 504.3 9.5 504.7 9.5 505 9.5 505.4 9.5 505.8 9.5 506.1 9.5 506.5 9.5 506.9 9.5 507.2 9.5 507.6 9.5 508 9.6 508.3 9.6 508.7 9.6 509.1 9.6 509.4 9.6 509.8 9.6 510.2 9.6 510.5 9.6 510.9 9.6 511.3 9.6 511.6 9.6 512 9.6 512.4 9.6 512.7 9.6 513.1 9.6 513.4 9.6 513.8 9.7 514.2 9.7 514.5 9.7 514.9 9.7 515.3 9.7 515.6 9.7 516 9.7 516.4 9.7 516.7 9.7 517.1 9.7 517.5 9.7 517.8 9.7 518.2 9.7 518.6 9.8 518.9 9.8 519.3 9.8 519.7 9.8 520 9.8 520.4 9.8 520.8 9.8 521.1 9.8 521.5 9.8 521.9 9.8 522.2 9.8 522.6 9.9 523 9.9 523.3 9.9 523.7 9.9 524.1 9.9 524.4 9.9 524.8 9.9 525.2 9.9 525.5 9.9 525.9 9.9 526.2 10 526.6 10 527 10 527.3 10 527.7 10 528.1 10 528.4 10 528.8 10 529.2 10.1 529.5 10.1 529.9 10.1 530.3 10.1 530.6 10.1 531 10.1 531.4 10.1 531.7 10.1 532.1 10.2 532.5 10.2 532.8 10.2 533.2 10.2 533.6 10.2 533.9 10.2 534.3 10.2 534.7 10.3 535 10.3 535.4 10.3 535.8 10.3 536.1 10.3 536.5 10.3 536.9 10.4 537.2 10.4 537.6 10.4 538 10.4 538.3 10.4 538.7 10.4 539 10.5 539.4 10.5 539.8 10.5 540.1 10.5 540.5 10.5 540.9 10.6 541.2 10.6 541.6 10.6 542 10.6 542.3 10.6 542.7 10.7 543.1 10.7 543.4 10.7 543.8 10.7 544.2 10.8 544.5 10.8 544.9 10.8 545.3 10.8 545.6 10.8 546 10.9 546.4 10.9 546.7 10.9 547.1 10.9 547.5 11 547.8 11 548.2 11 548.6 11 548.9 11.1 549.3 11.1 549.7 11.1 550 11.2 550.4 11.2 550.8 11.2 551.1 11.2 551.5 11.3 551.8 11.3 552.2 11.3 552.6 11.4 552.9 11.4 553.3 11.4 553.7 11.5 554 11.5 554.4 11.5 554.8 11.6 555.1 11.6 555.5 11.6 555.9 11.7 556.2 11.7 556.6 11.7 557 11.8 557.3 11.8 557.7 11.9 558.1 11.9 558.4 11.9 558.8 12 559.2 12 559.5 12.1 559.9 12.1 560.3 12.1 560.6 12.2 561 12.2 561.4 12.3 561.7 12.3 562.1 12.4 562.5 12.4 562.8 12.5 563.2 12.5 563.6 12.6 563.9 12.6 564.3 12.7 564.6 12.7 565 12.8 565.4 12.8 565.7 12.9 566.1 12.9 566.5 13 566.8 13 567.2 13.1 567.6 13.1 567.9 13.2 568.3 13.3 568.7 13.3 569 13.4 569.4 13.5 569.8 13.5 570.1 13.6 570.5 13.6 570.9 13.7 571.2 13.8 571.6 13.9 572 13.9 572.3 14 572.7 14.1 573.1 14.1 573.4 14.2 573.8 14.3 574.2 14.4 574.5 14.5 574.9 14.5 575.3 14.6 575.6 14.7 576 14.8 576.4 14.9 576.7 15 577.1 15 577.4 15.1 577.8 15.2 578.2 15.3 578.5 15.4 578.9 15.5 579.3 15.6 579.6 15.7 580 15.8 580.4 15.9 580.7 16 581.1 16.1 581.5 16.2 581.8 16.4 582.2 16.5 582.6 16.6 582.9 16.7 583.3 16.8 583.7 16.9 584 17.1 584.4 17.2 584.8 17.3 585.1 17.5 585.5 17.6 585.9 17.7 586.2 17.9 586.6 18 587 18.1 587.3 18.3 587.7 18.4 588.1 18.6 588.4 18.8 588.8 18.9 589.2 19.1 589.5 19.2 589.9 19.4 590.2 19.6 590.6 19.8 591 19.9 591.3 20.1 591.7 20.3 592.1 20.5 592.4 20.7 592.8 20.9 593.2 21.1 593.5 21.3 593.9 21.5 594.3 21.7 594.6 21.9 595 22.2 595.4 22.4 595.7 22.6 596.1 22.9 596.5 23.1 596.8 23.4 597.2 23.6 597.6 23.9 597.9 24.1 598.3 24.4 598.7 24.7 599 25 599.4 25.3 599.8 25.6 600.1 25.9 600.5 26.2 600.9 26.5 601.2 26.9 601.6 27.2 602 27.6 602.3 27.9 602.7 28.3 603 28.7 603.4 29 603.8 29.4 604.1 29.9 604.5 30.3 604.9 30.7 605.2 31.1 605.6 31.6 606 32.1 606.3 32.5 606.7 33 607.1 33.6 607.4 34.1 607.8 34.6 608.2 35.2 608.5 35.8 608.9 36.3 609.3 37 609.6 37.6 610 38.2 610.4 38.9 610.7 39.6 611.1 40.3 611.5 41.1 611.8 41.9 612.2 42.7 612.6 43.5 612.9 44.4 613.3 45.3 613.7 46.2 614 47.2 614.4 48.2 614.8 49.2 615.1 50.3 615.5 51.5 615.8 52.7 616.2 53.9 616.6 55.3 616.9 56.6 617.3 58.1 617.7 59.6 618 61.3 618.4 63 618.8 64.8 619.1 66.7 619.5 68.8 619.9 71 620.2 73.3 620.6 75.9 621 78.6 621.3 81.6 621.7 84.8 622.1 88.4 622.4 92.4 622.8 96.9 623.2 102 623.5 107.9 623.9 115 624.3 123.8 624.6 135.6 625 155.3 625.4 185 625.7 185 626.1 185 626.5 185 626.8 185 627.2 185 627.6 185 627.9 185 628.3 185 628.6 185 629 185 629.4 185 629.7 185 630.1 185 630.5 185 630.8 185 631.2 185 631.6 185 631.9 185 632.3 185 632.7 185 633 185 633.4 185 633.8 185 634.1 185 634.5 185 634.9 185 635.2 185 635.6 185 636 185 636.3 185 636.7 185 637.1 185 637.4 185 637.8 185 638.2 185 638.5 185 638.9 185 639.3 185 639.6 185 640 185 640.4 185 640.7 185 641.1 185 641.4 185 641.8 185 642.2 185 642.5 185 642.9 185 643.3 185 643.6 185 644 185 644.4 185 644.7 185 645.1 185 645.5 185 645.8 185 646.2 185 646.6 185 646.9 185 647.3 185" fill="none" stroke="#1f6fe8" stroke-width="1.4" marker-start="url(#mC)" marker-mid="url(#mC)" marker-end="url(#mC)"/>
<path d="M391.3 70 391.7 69.9 392 69.7 392.4 69.6 392.8 69.4 393.1 69.3 393.5 69.1 393.9 68.9 394.2 68.8 394.6 68.6 395 68.4 395.3 68.2 395.7 68 396.1 67.9 396.4 67.7 396.8 67.5 397.2 67.3 397.5 67.1 397.9 66.9 398.2 66.7 398.6 66.5 399 66.3 399.3 66.1 399.7 65.8 400.1 65.6 400.4 65.4 400.8 65.2 401.2 65 401.5 64.7 401.9 64.5 402.3 64.3 402.6 64 403 63.8 403.4 63.6 403.7 63.3 404.1 63.1 404.5 62.8 404.8 62.6 405.2 62.4 405.6 62.1 405.9 61.9 406.3 61.6 406.7 61.3 407 61.1 407.4 60.8 407.8 60.6 408.1 60.3 408.5 60 408.9 59.8 409.2 59.5 409.6 59.2 410 59 410.3 58.7 410.7 58.4 411 58.2 411.4 57.9 411.8 57.6 412.1 57.3 412.5 57.1 412.9 56.8 413.2 56.5 413.6 56.2 414 55.9 414.3 55.6 414.7 55.4 415.1 55.1 415.4 54.8 415.8 54.5 416.2 54.2 416.5 53.9 416.9 53.6 417.3 53.3 417.6 53 418 52.7 418.4 52.5 418.7 52.2 419.1 51.9 419.5 51.6 419.8 51.3 420.2 51 420.6 50.7 420.9 50.4 421.3 50.1 421.7 49.8 422 49.5 422.4 49.2 422.8 48.9 423.1 48.6 423.5 48.3 423.8 48 424.2 47.7 424.6 47.4 424.9 47.1 425.3 46.8 425.7 46.5 426 46.2 426.4 45.9 426.8 45.6 427.1 45.3 427.5 45 427.9 44.7 428.2 44.4 428.6 44.1 429 43.8 429.3 43.5 429.7 43.2 430.1 42.9 430.4 42.6 430.8 42.3 431.2 42 431.5 41.6 431.9 41.3 432.3 41 432.6 40.6 433 40.3 433.4 39.9 433.7 39.6 434.1 39.2 434.5 38.8 434.8 38.4 435.2 38 435.6 37.6 435.9 37.2 436.3 36.8 436.6 36.4 437 35.9 437.4 35.5 437.7 35 438.1 34.5 438.5 34 438.8 33.5 439.2 33 439.6 32.5 439.9 31.9 440.3 31.4 440.7 30.8 441 30.1 441.4 29.5 441.8 28.9 442.1 28.2 442.5 27.5 442.9 26.7 443.2 25.9 443.6 25.1 444 24.3 444.3 23.4 444.7 22.5 445.1 21.6 445.4 20.6 445.8 19.6 446.2 18.6 446.5 17.5 446.9 16.3 447.3 15.1 447.6 13.8 448 12.4 448.4 10.9 448.7 9.2 449.1 9.2 449.4 9.2 449.8 9.2 450.2 9.2 450.5 9.2 450.9 9.2 451.3 9.2 451.6 9.2 452 9.2 452.4 9.2 452.7 9.2 453.1 9.2 453.5 9.2 453.8 9.2 454.2 9.2 454.6 9.2 454.9 9.2 455.3 9.2 455.7 9.2 456 9.2 456.4 9.2 456.8 9.2 457.1 9.2 457.5 9.2 457.9 9.2 458.2 9.2 458.6 9.2 459 9.2 459.3 9.2 459.7 9.2 460.1 9.2 460.4 9.2 460.8 9.2 461.2 9.2 461.5 9.2 461.9 9.2 462.2 9.2 462.6 9.2 463 9.2 463.3 9.2 463.7 9.2 464.1 9.2 464.4 9.2 464.8 9.2 465.2 9.2 465.5 9.2 465.9 9.2 466.3 9.2 466.6 9.2 467 9.3 467.4 9.3 467.7 9.3 468.1 9.3 468.5 9.3 468.8 9.3 469.2 9.3 469.6 9.3 469.9 9.3 470.3 9.3 470.7 9.3 471 9.3 471.4 9.3 471.8 9.3 472.1 9.3 472.5 9.3 472.9 9.3 473.2 9.3 473.6 9.3 474 9.3 474.3 9.3 474.7 9.3 475 9.3 475.4 9.3 475.8 9.3 476.1 9.3 476.5 9.3 476.9 9.3 477.2 9.3 477.6 9.3 478 9.3 478.3 9.3 478.7 9.3 479.1 9.3 479.4 9.3 479.8 9.3 480.2 9.3 480.5 9.3 480.9 9.3 481.3 9.3 481.6 9.3 482 9.3 482.4 9.3 482.7 9.3 483.1 9.3 483.5 9.3 483.8 9.3 484.2 9.3 484.6 9.3 484.9 9.3 485.3 9.3 485.7 9.3 486 9.3 486.4 9.3 486.8 9.3 487.1 9.3 487.5 9.3 487.8 9.3 488.2 9.3 488.6 9.3 488.9 9.3 489.3 9.4 489.7 9.4 490 9.4 490.4 9.4 490.8 9.4 491.1 9.4 491.5 9.4 491.9 9.4 492.2 9.4 492.6 9.4 493 9.4 493.3 9.4 493.7 9.4 494.1 9.4 494.4 9.4 494.8 9.4 495.2 9.4 495.5 9.4 495.9 9.4 496.3 9.4 496.6 9.4 497 9.4 497.4 9.4 497.7 9.4 498.1 9.4 498.5 9.4 498.8 9.4 499.2 9.4 499.6 9.4 499.9 9.4 500.3 9.4 500.6 9.5 501 9.5 501.4 9.5 501.7 9.5 502.1 9.5 502.5 9.5 502.8 9.5 503.2 9.5 503.6 9.5 503.9 9.5 504.3 9.5 504.7 9.5 505 9.5 505.4 9.5 505.8 9.5 506.1 9.5 506.5 9.5 506.9 9.5 507.2 9.5 507.6 9.5 508 9.5 508.3 9.6 508.7 9.6 509.1 9.6 509.4 9.6 509.8 9.6 510.2 9.6 510.5 9.6 510.9 9.6 511.3 9.6 511.6 9.6 512 9.6 512.4 9.6 512.7 9.6 513.1 9.6 513.4 9.6 513.8 9.6 514.2 9.6 514.5 9.7 514.9 9.7 515.3 9.7 515.6 9.7 516 9.7 516.4 9.7 516.7 9.7 517.1 9.7 517.5 9.7 517.8 9.7 518.2 9.7 518.6 9.7 518.9 9.7 519.3 9.8 519.7 9.8 520 9.8 520.4 9.8 520.8 9.8 521.1 9.8 521.5 9.8 521.9 9.8 522.2 9.8 522.6 9.8 523 9.8 523.3 9.9 523.7 9.9 524.1 9.9 524.4 9.9 524.8 9.9 525.2 9.9 525.5 9.9 525.9 9.9 526.2 9.9 526.6 9.9 527 10 527.3 10 527.7 10 528.1 10 528.4 10 528.8 10 529.2 10 529.5 10 529.9 10.1 530.3 10.1 530.6 10.1 531 10.1 531.4 10.1 531.7 10.1 532.1 10.1 532.5 10.1 532.8 10.2 533.2 10.2 533.6 10.2 533.9 10.2 534.3 10.2 534.7 10.2 535 10.2 535.4 10.3 535.8 10.3 536.1 10.3 536.5 10.3 536.9 10.3 537.2 10.3 537.6 10.4 538 10.4 538.3 10.4 538.7 10.4 539 10.4 539.4 10.4 539.8 10.5 540.1 10.5 540.5 10.5 540.9 10.5 541.2 10.5 541.6 10.6 542 10.6 542.3 10.6 542.7 10.6 543.1 10.6 543.4 10.7 543.8 10.7 544.2 10.7 544.5 10.7 544.9 10.7 545.3 10.8 545.6 10.8 546 10.8 546.4 10.8 546.7 10.9 547.1 10.9 547.5 10.9 547.8 10.9 548.2 11 548.6 11 548.9 11 549.3 11 549.7 11.1 550 11.1 550.4 11.1 550.8 11.2 551.1 11.2 551.5 11.2 551.8 11.2 552.2 11.3 552.6 11.3 552.9 11.3 553.3 11.4 553.7 11.4 554 11.4 554.4 11.5 554.8 11.5 555.1 11.5 555.5 11.6 555.9 11.6 556.2 11.6 556.6 11.7 557 11.7 557.3 11.7 557.7 11.8 558.1 11.8 558.4 11.8 558.8 11.9 559.2 11.9 559.5 12 559.9 12 560.3 12 560.6 12.1 561 12.1 561.4 12.2 561.7 12.2 562.1 12.3 562.5 12.3 562.8 12.3 563.2 12.4 563.6 12.4 563.9 12.5 564.3 12.5 564.6 12.6 565 12.6 565.4 12.7 565.7 12.7 566.1 12.8 566.5 12.8 566.8 12.9 567.2 12.9 567.6 13 567.9 13.1 568.3 13.1 568.7 13.2 569 13.2 569.4 13.3 569.8 13.3 570.1 13.4 570.5 13.5 570.9 13.5 571.2 13.6 571.6 13.7 572 13.7 572.3 13.8 572.7 13.9 573.1 13.9 573.4 14 573.8 14.1 574.2 14.2 574.5 14.2 574.9 14.3 575.3 14.4 575.6 14.5 576 14.5 576.4 14.6 576.7 14.7 577.1 14.8 577.4 14.9 577.8 15 578.2 15.1 578.5 15.1 578.9 15.2 579.3 15.3 579.6 15.4 580 15.5 580.4 15.6 580.7 15.7 581.1 15.8 581.5 15.9 581.8 16 582.2 16.1 582.6 16.2 582.9 16.4 583.3 16.5 583.7 16.6 584 16.7 584.4 16.8 584.8 16.9 585.1 17.1 585.5 17.2 585.9 17.3 586.2 17.4 586.6 17.6 587 17.7 587.3 17.9 587.7 18 588.1 18.1 588.4 18.3 588.8 18.4 589.2 18.6 589.5 18.7 589.9 18.9 590.2 19.1 590.6 19.2 591 19.4 591.3 19.6 591.7 19.7 592.1 19.9 592.4 20.1 592.8 20.3 593.2 20.5 593.5 20.6 593.9 20.8 594.3 21 594.6 21.2 595 21.5 595.4 21.7 595.7 21.9 596.1 22.1 596.5 22.3 596.8 22.6 597.2 22.8 597.6 23 597.9 23.3 598.3 23.5 598.7 23.8 599 24.1 599.4 24.3 599.8 24.6 600.1 24.9 600.5 25.2 600.9 25.5 601.2 25.8 601.6 26.1 602 26.4 602.3 26.7 602.7 27.1 603 27.4 603.4 27.8 603.8 28.1 604.1 28.5 604.5 28.9 604.9 29.3 605.2 29.7 605.6 30.1 606 30.5 606.3 30.9 606.7 31.4 607.1 31.8 607.4 32.3 607.8 32.8 608.2 33.3 608.5 33.8 608.9 34.3 609.3 34.9 609.6 35.4 610 36 610.4 36.6 610.7 37.2 611.1 37.8 611.5 38.5 611.8 39.2 612.2 39.9 612.6 40.6 612.9 41.3 613.3 42.1 613.7 42.9 614 43.8 614.4 44.6 614.8 45.5 615.1 46.5 615.5 47.4 615.8 48.4 616.2 49.5 616.6 50.6 616.9 51.8 617.3 53 617.7 54.2 618 55.5 618.4 56.9 618.8 58.4 619.1 59.9 619.5 61.6 619.9 63.3 620.2 65.1 620.6 67 621 69.1 621.3 71.3 621.7 73.6 622.1 76.2 622.4 78.9 622.8 81.9 623.2 85.1 623.5 88.7 623.9 92.7 624.3 97.1 624.6 102.2 625 108.1 625.4 115.2 625.7 123.9 626.1 135.8 626.5 155.3 626.8 185 627.2 185 627.6 185 627.9 185 628.3 185 628.6 185 629 185 629.4 185 629.7 185 630.1 185 630.5 185 630.8 185 631.2 185 631.6 185 631.9 185 632.3 185 632.7 185 633 185 633.4 185 633.8 185 634.1 185 634.5 185 634.9 185 635.2 185 635.6 185 636 185 636.3 185 636.7 185 637.1 185 637.4 185 637.8 185 638.2 185 638.5 185 638.9 185 639.3 185 639.6 185 640 185 640.4 185 640.7 185 641.1 185 641.4 185 641.8 185 642.2 185 642.5 185 642.9 185 643.3 185 643.6 185 644 185 644.4 185 644.7 185 645.1 185 645.5 185 645.8 185 646.2 185 646.6 185 646.9 185 647.3 185" fill="none" stroke="#108010" stroke-width="1.4" marker-start="url(#mD)" marker-mid="url(#mD)" marker-end="url(#mD)"/>
<path d="M391.3 70 391.7 69.9 392 69.7 392.4 69.6 392.8 69.4 393.1 69.3 393.5 69.1 393.9 68.9 394.2 68.8 394.6 68.6 395 68.4 395.3 68.2 395.7 68 396.1 67.9 396.4 67.7 396.8 67.5 397.2 67.3 397.5 67.1 397.9 66.9 398.2 66.7 398.6 66.5 399 66.3 399.3 66.1 399.7 65.8 400.1 65.6 400.4 65.4 400.8 65.2 401.2 65 401.5 64.7 401.9 64.5 402.3 64.3 402.6 64 403 63.8 403.4 63.6 403.7 63.3 404.1 63.1 404.5 62.8 404.8 62.6 405.2 62.4 405.6 62.1 405.9 61.9 406.3 61.6 406.7 61.3 407 61.1 407.4 60.8 407.8 60.6 408.1 60.3 408.5 60 408.9 59.8 409.2 59.5 409.6 59.2 410 59 410.3 58.7 410.7 58.4 411 58.2 411.4 57.9 411.8 57.6 412.1 57.3 412.5 57.1 412.9 56.8 413.2 56.5 413.6 56.2 414 55.9 414.3 55.6 414.7 55.4 415.1 55.1 415.4 54.8 415.8 54.5 416.2 54.2 416.5 53.9 416.9 53.6 417.3 53.3 417.6 53 418 52.7 418.4 52.5 418.7 52.2 419.1 51.9 419.5 51.6 419.8 51.3 420.2 51 420.6 50.7 420.9 50.4 421.3 50.1 421.7 49.8 422 49.5 422.4 49.2 422.8 48.9 423.1 48.6 423.5 48.3 423.8 48 424.2 47.7 424.6 47.4 424.9 47.1 425.3 46.8 425.7 46.5 426 46.2 426.4 45.9 426.8 45.6 427.1 45.3 427.5 45 427.9 44.7 428.2 44.4 428.6 44.1 429 43.8 429.3 43.5 429.7 43.2 430.1 42.9 430.4 42.6 430.8 42.3 431.2 42 431.5 41.6 431.9 41.3 432.3 41 432.6 40.6 433 40.3 433.4 39.9 433.7 39.6 434.1 39.2 434.5 38.8 434.8 38.4 435.2 38 435.6 37.6 435.9 37.2 436.3 36.8 436.6 36.4 437 35.9 437.4 35.5 437.7 35 438.1 34.5 438.5 34 438.8 33.5 439.2 33 439.6 32.5 439.9 31.9 440.3 31.4 440.7 30.8 441 30.1 441.4 29.5 441.8 28.9 442.1 28.2 442.5 27.5 442.9 26.7 443.2 25.9 443.6 25.1 444 24.3 444.3 23.4 444.7 22.5 445.1 21.6 445.4 20.6 445.8 19.6 446.2 18.6 446.5 17.5 446.9 16.3 447.3 15.1 447.6 13.8 448 12.4 448.4 10.9 448.7 9.2 449.1 9.2 449.4 9.2 449.8 9.2 450.2 9.2 450.5 9.2 450.9 9.2 451.3 9.2 451.6 9.2 452 9.2 452.4 9.2 452.7 9.2 453.1 9.2 453.5 9.2 453.8 9.2 454.2 9.2 454.6 9.2 454.9 9.2 455.3 9.2 455.7 9.2 456 9.2 456.4 9.2 456.8 9.2 457.1 9.2 457.5 9.2 457.9 9.2 458.2 9.2 458.6 9.2 459 9.2 459.3 9.2 459.7 9.2 460.1 9.2 460.4 9.2 460.8 9.2 461.2 9.2 461.5 9.2 461.9 9.2 462.2 9.2 462.6 9.2 463 9.2 463.3 9.2 463.7 9.2 464.1 9.2 464.4 9.2 464.8 9.2 465.2 9.2 465.5 9.2 465.9 9.2 466.3 9.3 466.6 9.3 467 9.3 467.4 9.3 467.7 9.3 468.1 9.3 468.5 9.3 468.8 9.3 469.2 9.3 469.6 9.3 469.9 9.3 470.3 9.3 470.7 9.3 471 9.3 471.4 9.3 471.8 9.3 472.1 9.3 472.5 9.3 472.9 9.3 473.2 9.3 473.6 9.3 474 9.3 474.3 9.3 474.7 9.3 475 9.3 475.4 9.3 475.8 9.3 476.1 9.3 476.5 9.3 476.9 9.3 477.2 9.3 477.6 9.3 478 9.3 478.3 9.3 478.7 9.3 479.1 9.3 479.4 9.3 479.8 9.3 480.2 9.3 480.5 9.3 480.9 9.3 481.3 9.3 481.6 9.3 482 9.3 482.4 9.3 482.7 9.3 483.1 9.3 483.5 9.3 483.8 9.3 484.2 9.3 484.6 9.3 484.9 9.3 485.3 9.3 485.7 9.3 486 9.3 486.4 9.3 486.8 9.3 487.1 9.3 487.5 9.3 487.8 9.3 488.2 9.3 488.6 9.4 488.9 9.4 489.3 9.4 489.7 9.4 490 9.4 490.4 9.4 490.8 9.4 491.1 9.4 491.5 9.4 491.9 9.4 492.2 9.4 492.6 9.4 493 9.4 493.3 9.4 493.7 9.4 494.1 9.4 494.4 9.4 494.8 9.4 495.2 9.4 495.5 9.4 495.9 9.4 496.3 9.4 496.6 9.4 497 9.4 497.4 9.4 497.7 9.4 498.1 9.4 498.5 9.4 498.8 9.4 499.2 9.4 499.6 9.5 499.9 9.5 500.3 9.5 500.6 9.5 501 9.5 501.4 9.5 501.7 9.5 502.1 9.5 502.5 9.5 502.8 9.5 503.2 9.5 503.6 9.5 503.9 9.5 504.3 9.5 504.7 9.5 505 9.5 505.4 9.5 505.8 9.5 506.1 9.5 506.5 9.5 506.9 9.5 507.2 9.6 507.6 9.6 508 9.6 508.3 9.6 508.7 9.6 509.1 9.6 509.4 9.6 509.8 9.6 510.2 9.6 510.5 9.6 510.9 9.6 511.3 9.6 511.6 9.6 512 9.6 512.4 9.6 512.7 9.6 513.1 9.7 513.4 9.7 513.8 9.7 514.2 9.7 514.5 9.7 514.9 9.7 515.3 9.7 515.6 9.7 516 9.7 516.4 9.7 516.7 9.7 517.1 9.7 517.5 9.7 517.8 9.8 518.2 9.8 518.6 9.8 518.9 9.8 519.3 9.8 519.7 9.8 520 9.8 520.4 9.8 520.8 9.8 521.1 9.8 521.5 9.8 521.9 9.9 522.2 9.9 522.6 9.9 523 9.9 523.3 9.9 523.7 9.9 524.1 9.9 524.4 9.9 524.8 9.9 525.2 9.9 525.5 10 525.9 10 526.2 10 526.6 10 527 10 527.3 10 527.7 10 528.1 10 528.4 10.1 528.8 10.1 529.2 10.1 529.5 10.1 529.9 10.1 530.3 10.1 530.6 10.1 531 10.1 531.4 10.2 531.7 10.2 532.1 10.2 532.5 10.2 532.8 10.2 533.2 10.2 533.6 10.2 533.9 10.3 534.3 10.3 534.7 10.3 535 10.3 535.4 10.3 535.8 10.3 536.1 10.4 536.5 10.4 536.9 10.4 537.2 10.4 537.6 10.4 538 10.5 538.3 10.5 538.7 10.5 539 10.5 539.4 10.5 539.8 10.5 540.1 10.6 540.5 10.6 540.9 10.6 541.2 10.6 541.6 10.6 542 10.7 542.3 10.7 542.7 10.7 543.1 10.7 543.4 10.8 543.8 10.8 544.2 10.8 544.5 10.8 544.9 10.9 545.3 10.9 545.6 10.9 546 10.9 546.4 10.9 546.7 11 547.1 11 547.5 11 547.8 11.1 548.2 11.1 548.6 11.1 548.9 11.1 549.3 11.2 549.7 11.2 550 11.2 550.4 11.3 550.8 11.3 551.1 11.3 551.5 11.3 551.8 11.4 552.2 11.4 552.6 11.4 552.9 11.5 553.3 11.5 553.7 11.5 554 11.6 554.4 11.6 554.8 11.6 555.1 11.7 555.5 11.7 555.9 11.8 556.2 11.8 556.6 11.8 557 11.9 557.3 11.9 557.7 12 558.1 12 558.4 12 558.8 12.1 559.2 12.1 559.5 12.2 559.9 12.2 560.3 12.3 560.6 12.3 561 12.3 561.4 12.4 561.7 12.4 562.1 12.5 562.5 12.5 562.8 12.6 563.2 12.6 563.6 12.7 563.9 12.7 564.3 12.8 564.6 12.8 565 12.9 565.4 13 565.7 13 566.1 13.1 566.5 13.1 566.8 13.2 567.2 13.2 567.6 13.3 567.9 13.4 568.3 13.4 568.7 13.5 569 13.6 569.4 13.6 569.8 13.7 570.1 13.8 570.5 13.8 570.9 13.9 571.2 14 571.6 14.1 572 14.1 572.3 14.2 572.7 14.3 573.1 14.4 573.4 14.4 573.8 14.5 574.2 14.6 574.5 14.7 574.9 14.8 575.3 14.9 575.6 14.9 576 15 576.4 15.1 576.7 15.2 577.1 15.3 577.4 15.4 577.8 15.5 578.2 15.6 578.5 15.7 578.9 15.8 579.3 15.9 579.6 16 580 16.1 580.4 16.2 580.7 16.3 581.1 16.5 581.5 16.6 581.8 16.7 582.2 16.8 582.6 16.9 582.9 17.1 583.3 17.2 583.7 17.3 584 17.5 584.4 17.6 584.8 17.7 585.1 17.9 585.5 18 585.9 18.2 586.2 18.3 586.6 18.5 587 18.6 587.3 18.8 587.7 18.9 588.1 19.1 588.4 19.3 588.8 19.4 589.2 19.6 589.5 19.8 589.9 20 590.2 20.1 590.6 20.3 591 20.5 591.3 20.7 591.7 20.9 592.1 21.1 592.4 21.3 592.8 21.6 593.2 21.8 593.5 22 593.9 22.2 594.3 22.5 594.6 22.7 595 22.9 595.4 23.2 595.7 23.4 596.1 23.7 596.5 24 596.8 24.2 597.2 24.5 597.6 24.8 597.9 25.1 598.3 25.4 598.7 25.7 599 26 599.4 26.3 599.8 26.7 600.1 27 600.5 27.4 600.9 27.7 601.2 28.1 601.6 28.5 602 28.8 602.3 29.2 602.7 29.6 603 30.1 603.4 30.5 603.8 30.9 604.1 31.4 604.5 31.8 604.9 32.3 605.2 32.8 605.6 33.3 606 33.8 606.3 34.4 606.7 34.9 607.1 35.5 607.4 36.1 607.8 36.7 608.2 37.3 608.5 38 608.9 38.7 609.3 39.4 609.6 40.1 610 40.8 610.4 41.6 610.7 42.4 611.1 43.2 611.5 44.1 611.8 45 612.2 45.9 612.6 46.9 612.9 47.9 613.3 48.9 613.7 50 614 51.2 614.4 52.4 614.8 53.6 615.1 55 615.5 56.3 615.8 57.8 616.2 59.3 616.6 61 616.9 62.7 617.3 64.5 617.7 66.4 618 68.5 618.4 70.7 618.8 73 619.1 75.6 619.5 78.3 619.9 81.3 620.2 84.5 620.6 88.1 621 92.1 621.3 96.6 621.7 101.7 622.1 107.6 622.4 114.7 622.8 123.6 623.2 135.5 623.5 155.3 623.9 185 624.3 185 624.6 185 625 185 625.4 185 625.7 185 626.1 185 626.5 185 626.8 185 627.2 185 627.6 185 627.9 185 628.3 185 628.6 185 629 185 629.4 185 629.7 185 630.1 185 630.5 185 630.8 185 631.2 185 631.6 185 631.9 185 632.3 185 632.7 185 633 185 633.4 185 633.8 185 634.1 185 634.5 185 634.9 185 635.2 185 635.6 185 636 185 636.3 185 636.7 185 637.1 185 637.4 185 637.8 185 638.2 185 638.5 185 638.9 185 639.3 185 639.6 185 640 185 640.4 185 640.7 185 641.1 185 641.4 185 641.8 185 642.2 185 642.5 185 642.9 185 643.3 185 643.6 185 644 185 644.4 185 644.7 185 645.1 185 645.5 185 645.8 185 646.2 185 646.6 185 646.9 185 647.3 185" fill="none" stroke="#800000" stroke-width="1.4" marker-start="url(#mE)" marker-mid="url(#mE)" marker-end="url(#mE)"/>
</g>
<g clip-path="url(#cc)">
<path d="M391.1 352.6 391.5 352.4 391.8 352.2 392.2 352 392.6 351.8 392.9 351.6 393.3 351.4 393.7 351.2 394 351 394.4 350.8 394.8 350.6 395.1 350.4 395.5 350.2 395.9 350 396.2 349.7 396.6 349.5 397 349.3 397.3 349.1 397.7 348.9 398.1 348.6 398.4 348.4 398.8 348.2 399.2 348 399.5 347.7 399.9 347.5 400.2 347.3 400.6 347 401 346.8 401.3 346.6 401.7 346.3 402.1 346.1 402.4 345.9 402.8 345.6 403.2 345.4 403.5 345.1 403.9 344.9 404.3 344.7 404.6 344.4 405 344.2 405.4 343.9 405.7 343.7 406.1 343.4 406.5 343.2 406.8 342.9 407.2 342.6 407.6 342.4 407.9 342.1 408.3 341.9 408.7 341.6 409 341.3 409.4 341.1 409.8 340.8 410.1 340.6 410.5 340.3 410.9 340 411.2 339.8 411.6 339.5 412 339.2 412.3 338.9 412.7 338.7 413.1 338.4 413.4 338.1 413.8 337.8 414.2 337.6 414.5 337.3 414.9 337 415.3 336.7 415.6 336.4 416 336.1 416.4 335.9 416.7 335.6 417.1 335.3 417.5 335 417.8 334.7 418.2 334.4 418.6 334.1 418.9 333.8 419.3 333.5 419.6 333.2 420 333 420.4 332.7 420.7 332.4 421.1 332.1 421.5 331.8 421.8 331.5 422.2 331.2 422.6 330.9 422.9 330.6 423.3 330.3 423.7 329.9 424 329.6 424.4 329.3 424.8 329 425.1 328.7 425.5 328.4 425.9 328.1 426.2 327.8 426.6 327.5 427 327.2 427.3 326.9 427.7 326.6 428.1 326.2 428.4 325.9 428.8 325.6 429.2 325.3 429.5 325 429.9 324.7 430.3 324.3 430.6 324 431 323.7 431.4 323.3 431.7 323 432.1 322.7 432.5 322.3 432.8 322 433.2 321.6 433.6 321.3 433.9 320.9 434.3 320.6 434.7 320.2 435 319.8 435.4 319.5 435.8 319.1 436.1 318.7 436.5 318.3 436.9 317.9 437.2 317.5 437.6 317.1 437.9 316.7 438.3 316.2 438.7 315.8 439 315.4 439.4 314.9 439.8 314.5 440.1 314 440.5 313.5 440.9 313 441.2 312.5 441.6 312 442 311.5 442.3 311 442.7 310.4 443.1 309.8 443.4 309.2 443.8 308.6 444.2 308 444.5 307.4 444.9 306.7 445.3 306 445.6 305.3 446 304.6 446.4 303.9 446.7 303.1 447.1 302.3 447.5 301.4 447.8 300.5 448.2 299.6 448.6 298.5 448.9 298.3 449.3 298 449.7 297.8 450 297.6 450.4 297.3 450.8 297.1 451.1 296.9 451.5 296.6 451.9 296.4 452.2 296.2 452.6 296 453 295.7 453.3 295.5 453.7 295.3 454.1 295 454.4 294.8 454.8 294.6 455.1 294.3 455.5 294.1 455.9 293.9 456.2 293.7 456.6 293.4 457 293.2 457.3 293 457.7 292.7 458.1 292.5 458.4 292.3 458.8 292.1 459.2 291.8 459.5 291.6 459.9 291.4 460.3 291.2 460.6 290.9 461 290.7 461.4 290.5 461.7 290.3 462.1 290.1 462.5 289.8 462.8 289.6 463.2 289.4 463.6 289.2 463.9 288.9 464.3 288.7 464.7 288.5 465 288.3 465.4 288.1 465.8 287.9 466.1 287.6 466.5 287.4 466.9 287.2 467.2 287 467.6 286.8 468 286.6 468.3 286.4 468.7 286.1 469.1 285.9 469.4 285.7 469.8 285.5 470.2 285.3 470.5 285.1 470.9 284.9 471.3 284.7 471.6 284.5 472 284.3 472.4 284.1 472.7 283.9 473.1 283.7 473.4 283.5 473.8 283.3 474.2 283.1 474.5 282.9 474.9 282.7 475.3 282.5 475.6 282.3 476 282.1 476.4 281.9 476.7 281.7 477.1 281.5 477.5 281.3 477.8 281.1 478.2 280.9 478.6 280.8 478.9 280.6 479.3 280.4 479.7 280.2 480 280 480.4 279.9 480.8 279.7 481.1 279.5 481.5 279.3 481.9 279.2 482.2 279 482.6 278.8 483 278.7 483.3 278.5 483.7 278.3 484.1 278.2 484.4 278 484.8 277.9 485.2 277.7 485.5 277.6 485.9 277.4 486.3 277.3 486.6 277.2 487 277 487.4 276.9 487.7 276.8 488.1 276.6 488.5 276.5 488.8 276.4 489.2 276.3 489.6 276.2 489.9 276 490.3 275.9 490.7 275.8 491 275.7 491.4 275.6 491.8 275.6 492.1 275.5 492.5 275.4 492.8 275.3 493.2 275.2 493.6 275.2 493.9 275.1 494.3 275.1 494.7 275 495 275 495.4 275 495.8 274.9 496.1 274.9 496.5 274.9 496.9 274.9 497.2 274.9 497.6 274.9 498 275 498.3 275 498.7 275 499.1 275.1 499.4 275.1 499.8 275.2 500.2 275.3 500.5 275.4 500.9 275.5 501.3 275.7 501.6 275.8 502 276 502.4 276.1 502.7 276.3 503.1 276.5 503.5 276.8 503.8 277 504.2 277.3 504.6 277.6 504.9 277.9 505.3 278.2 505.7 278.6 506 279 506.4 279.4 506.8 279.9 507.1 280.4 507.5 280.9 507.9 281.5 508.2 282.2 508.6 282.8 509 283.6 509.3 284.4 509.7 285.2 510.1 286.2 510.4 287.2 510.8 288.3 511.1 289.5 511.5 290.8 511.9 292.2 512.2 293.8 512.6 295.5 513 297.4 513.3 299.5 513.7 301.9 514.1 304.6 514.4 307.7 514.8 311.2 515.2 315.4 515.5 320.3 515.9 326.6 516.3 334.7 516.6 346.9 517 384.1 517.4 384.1 517.7 384.1 518.1 384.1 518.5 384.1 518.8 384.1 519.2 384.1 519.6 384.1 519.9 384.1 520.3 384.1 520.7 384.1 521 384.1 521.4 384.1 521.8 384.1 522.1 384.1 522.5 384.1 522.9 384.1 523.2 384.1 523.6 384.1 524 384.1 524.3 384.1 524.7 384.1 525.1 384.1 525.4 384.1 525.8 384.1 526.2 384.1 526.5 384.1 526.9 384.1 527.3 384.1 527.6 384.1 528 384.1 528.4 384.1 528.7 384.1 529.1 384.1 529.4 384.1 529.8 384.1 530.2 384.1 530.5 384.1 530.9 384.1 531.3 384.1 531.6 384.1 532 384.1 532.4 384.1 532.7 384.1 533.1 384.1 533.5 384.1 533.8 384.1 534.2 384.1 534.6 384.1 534.9 384.1 535.3 384.1 535.7 384.1 536 384.1 536.4 384.1 536.8 384.1 537.1 384.1 537.5 384.1 537.9 384.1 538.2 384.1 538.6 384.1 539 384.1 539.3 384.1 539.7 384.1 540.1 384.1 540.4 384.1 540.8 384.1 541.2 384.1 541.5 384.1 541.9 384.1 542.3 384.1 542.6 384.1 543 384.1 543.4 384.1 543.7 384.1 544.1 384.1 544.5 384.1 544.8 384.1 545.2 384.1 545.6 384.1 545.9 384.1 546.3 384.1 546.6 384.1 547 384.1 547.4 384.1 547.7 384.1 548.1 384.1 548.5 384.1 548.8 384.1 549.2 384.1 549.6 384.1 549.9 384.1 550.3 384.1 550.7 384.1 551 384.1 551.4 384.1 551.8 384.1 552.1 384.1 552.5 384.1 552.9 384.1 553.2 384.1 553.6 384.1 554 384.1 554.3 384.1 554.7 384.1 555.1 384.1 555.4 384.1 555.8 384.1 556.2 384.1 556.5 384.1 556.9 384.1 557.3 384.1 557.6 384.1 558 384.1 558.4 384.1 558.7 384.1 559.1 384.1 559.5 384.1 559.8 384.1 560.2 384.1 560.6 384.1 560.9 384.1 561.3 384.1 561.7 384.1 562 384.1 562.4 384.1 562.8 384.1 563.1 384.1 563.5 384.1 563.9 384.1 564.2 384.1 564.6 384.1 565 384.1 565.3 384.1 565.7 384.1 566 384.1 566.4 384.1 566.8 384.1 567.1 384.1 567.5 384.1 567.9 384.1 568.2 384.1 568.6 384.1 569 384.1 569.3 384.1 569.7 384.1 570.1 384.1 570.4 384.1 570.8 384.1 571.2 384.1 571.5 384.1 571.9 384.1 572.3 384.1 572.6 384.1 573 384.1 573.4 384.1 573.7 384.1 574.1 384.1 574.5 384.1 574.8 384.1 575.2 384.1 575.6 384.1 575.9 384.1 576.3 384.1 576.7 384.1 577 384.1 577.4 384.1 577.8 384.1 578.1 384.1 578.5 384.1 578.9 384.1 579.2 384.1 579.6 384.1 580 384.1 580.3 384.1 580.7 384.1 581.1 384.1 581.4 384.1 581.8 384.1 582.2 384.1 582.5 384.1 582.9 384.1 583.2 384.1 583.6 384.1 584 384.1 584.3 384.1 584.7 384.1 585.1 384.1 585.4 384.1 585.8 384.1 586.2 384.1 586.5 384.1 586.9 384.1 587.3 384.1 587.6 384.1 588 384.1 588.4 384.1 588.7 384.1 589.1 384.1 589.5 384.1 589.8 384.1 590.2 384.1 590.6 384.1 590.9 384.1 591.3 384.1 591.7 384.1 592 384.1 592.4 384.1 592.8 384.1 593.1 384.1 593.5 384.1 593.9 384.1 594.2 384.1 594.6 384.1 595 384.1 595.3 384.1 595.7 384.1 596.1 384.1 596.4 384.1 596.8 384.1 597.2 384.1 597.5 384.1 597.9 384.1 598.3 384.1 598.6 384.1 599 384.1 599.4 384.1 599.7 384.1 600.1 384.1 600.5 384.1 600.8 384.1 601.2 384.1 601.5 384.1 601.9 384.1 602.3 384.1 602.6 384.1 603 384.1 603.4 384.1 603.7 384.1 604.1 384.1 604.5 384.1 604.8 384.1 605.2 384.1 605.6 384.1 605.9 384.1 606.3 384.1 606.7 384.1 607 384.1 607.4 384.1 607.8 384.1 608.1 384.1 608.5 384.1 608.9 384.1 609.2 384.1 609.6 384.1 610 384.1 610.3 384.1 610.7 384.1 611.1 384.1 611.4 384.1 611.8 384.1 612.2 384.1 612.5 384.1 612.9 384.1 613.3 384.1 613.6 384.1 614 384.1 614.4 384.1 614.7 384.1 615.1 384.1 615.5 384.1 615.8 384.1 616.2 384.1 616.6 384.1 616.9 384.1 617.3 384.1 617.7 384.1 618 384.1 618.4 384.1 618.8 384.1 619.1 384.1 619.5 384.1 619.8 384.1 620.2 384.1 620.6 384.1 620.9 384.1 621.3 384.1 621.7 384.1 622 384.1 622.4 384.1 622.8 384.1 623.1 384.1 623.5 384.1 623.9 384.1 624.2 384.1 624.6 384.1 625 384.1 625.3 384.1 625.7 384.1 626.1 384.1 626.4 384.1 626.8 384.1 627.2 384.1 627.5 384.1 627.9 384.1 628.3 384.1 628.6 384.1 629 384.1 629.4 384.1 629.7 384.1 630.1 384.1 630.5 384.1 630.8 384.1 631.2 384.1 631.6 384.1 631.9 384.1 632.3 384.1 632.7 384.1 633 384.1 633.4 384.1 633.8 384.1 634.1 384.1 634.5 384.1 634.9 384.1 635.2 384.1 635.6 384.1 636 384.1 636.3 384.1 636.7 384.1 637.1 384.1 637.4 384.1 637.8 384.1 638.1 384.1 638.5 384.1 638.9 384.1 639.2 384.1 639.6 384.1 640 384.1 640.3 384.1 640.7 384.1 641.1 384.1 641.4 384.1 641.8 384.1 642.2 384.1 642.5 384.1 642.9 384.1 643.3 384.1 643.6 384.1 644 384.1 644.4 384.1 644.7 384.1 645.1 384.1 645.5 384.1 645.8 384.1 646.2 384.1 646.6 384.1 646.9 384.1 647.3 384.1" fill="none" stroke="#000000" stroke-width="1.4" marker-start="url(#mA)" marker-mid="url(#mA)" marker-end="url(#mA)"/>
<path d="M391.1 352.6 391.5 352.4 391.8 352.2 392.2 352 392.6 351.8 392.9 351.6 393.3 351.4 393.7 351.2 394 351 394.4 350.8 394.8 350.6 395.1 350.4 395.5 350.2 395.9 350 396.2 349.7 396.6 349.5 397 349.3 397.3 349.1 397.7 348.9 398.1 348.6 398.4 348.4 398.8 348.2 399.2 348 399.5 347.7 399.9 347.5 400.2 347.3 400.6 347 401 346.8 401.3 346.6 401.7 346.3 402.1 346.1 402.4 345.9 402.8 345.6 403.2 345.4 403.5 345.1 403.9 344.9 404.3 344.6 404.6 344.4 405 344.2 405.4 343.9 405.7 343.7 406.1 343.4 406.5 343.1 406.8 342.9 407.2 342.6 407.6 342.4 407.9 342.1 408.3 341.9 408.7 341.6 409 341.3 409.4 341.1 409.8 340.8 410.1 340.5 410.5 340.3 410.9 340 411.2 339.7 411.6 339.5 412 339.2 412.3 338.9 412.7 338.6 413.1 338.4 413.4 338.1 413.8 337.8 414.2 337.5 414.5 337.3 414.9 337 415.3 336.7 415.6 336.4 416 336.1 416.4 335.8 416.7 335.6 417.1 335.3 417.5 335 417.8 334.7 418.2 334.4 418.6 334.1 418.9 333.8 419.3 333.5 419.6 333.2 420 332.9 420.4 332.6 420.7 332.3 421.1 332 421.5 331.7 421.8 331.4 422.2 331.1 422.6 330.8 422.9 330.5 423.3 330.2 423.7 329.9 424 329.6 424.4 329.3 424.8 329 425.1 328.7 425.5 328.4 425.9 328.1 426.2 327.8 426.6 327.4 427 327.1 427.3 326.8 427.7 326.5 428.1 326.2 428.4 325.9 428.8 325.6 429.2 325.2 429.5 324.9 429.9 324.6 430.3 324.3 430.6 323.9 431 323.6 431.4 323.3 431.7 322.9 432.1 322.6 432.5 322.3 432.8 321.9 433.2 321.6 433.6 321.2 433.9 320.8 434.3 320.5 434.7 320.1 435 319.7 435.4 319.4 435.8 319 436.1 318.6 436.5 318.2 436.9 317.8 437.2 317.4 437.6 317 437.9 316.6 438.3 316.1 438.7 315.7 439 315.3 439.4 314.8 439.8 314.3 440.1 313.9 440.5 313.4 440.9 312.9 441.2 312.4 441.6 311.9 442 311.3 442.3 310.8 442.7 310.2 443.1 309.7 443.4 309.1 443.8 308.5 444.2 307.8 444.5 307.2 444.9 306.5 445.3 305.8 445.6 305.1 446 304.4 446.4 303.6 446.7 302.8 447.1 302 447.5 301.2 447.8 300.3 448.2 299.3 448.6 298.2 448.9 298 449.3 297.7 449.7 297.5 450 297.3 450.4 297 450.8 296.8 451.1 296.5 451.5 296.3 451.9 296.1 452.2 295.8 452.6 295.6 453 295.3 453.3 295.1 453.7 294.9 454.1 294.6 454.4 294.4 454.8 294.1 455.1 293.9 455.5 293.7 455.9 293.4 456.2 293.2 456.6 292.9 457 292.7 457.3 292.5 457.7 292.2 458.1 292 458.4 291.7 458.8 291.5 459.2 291.3 459.5 291 459.9 290.8 460.3 290.5 460.6 290.3 461 290 461.4 289.8 461.7 289.6 462.1 289.3 462.5 289.1 462.8 288.8 463.2 288.6 463.6 288.4 463.9 288.1 464.3 287.9 464.7 287.6 465 287.4 465.4 287.2 465.8 286.9 466.1 286.7 466.5 286.4 466.9 286.2 467.2 286 467.6 285.7 468 285.5 468.3 285.3 468.7 285 469.1 284.8 469.4 284.5 469.8 284.3 470.2 284.1 470.5 283.8 470.9 283.6 471.3 283.3 471.6 283.1 472 282.9 472.4 282.6 472.7 282.4 473.1 282.1 473.4 281.9 473.8 281.7 474.2 281.4 474.5 281.2 474.9 280.9 475.3 280.7 475.6 280.5 476 280.2 476.4 280 476.7 279.7 477.1 279.5 477.5 279.3 477.8 279 478.2 278.8 478.6 278.5 478.9 278.3 479.3 278.1 479.7 277.8 480 277.6 480.4 277.3 480.8 277.1 481.1 276.9 481.5 276.6 481.9 276.4 482.2 276.1 482.6 275.9 483 275.7 483.3 275.4 483.7 275.2 484.1 275 484.4 274.7 484.8 274.5 485.2 274.2 485.5 274 485.9 273.8 486.3 273.5 486.6 273.3 487 273 487.4 272.8 487.7 272.6 488.1 272.3 488.5 272.1 488.8 271.9 489.2 271.6 489.6 271.4 489.9 271.1 490.3 270.9 490.7 270.7 491 270.4 491.4 270.2 491.8 269.9 492.1 269.7 492.5 269.5 492.8 269.2 493.2 269 493.6 268.8 493.9 268.5 494.3 268.3 494.7 268 495 267.8 495.4 267.6 495.8 267.3 496.1 267.1 496.5 266.9 496.9 266.6 497.2 266.4 497.6 266.1 498 265.9 498.3 265.7 498.7 265.4 499.1 265.2 499.4 265 499.8 264.7 500.2 264.5 500.5 264.2 500.9 264 501.3 263.8 501.6 263.5 502 263.3 502.4 263.1 502.7 262.8 503.1 262.6 503.5 262.4 503.8 262.1 504.2 261.9 504.6 261.6 504.9 261.4 505.3 261.2 505.7 260.9 506 260.7 506.4 260.5 506.8 260.2 507.1 260 507.5 259.8 507.9 259.5 508.2 259.3 508.6 259.1 509 258.8 509.3 258.6 509.7 258.4 510.1 258.1 510.4 257.9 510.8 257.6 511.1 257.4 511.5 257.2 511.9 256.9 512.2 256.7 512.6 256.5 513 256.2 513.3 256 513.7 255.8 514.1 255.5 514.4 255.3 514.8 255.1 515.2 254.8 515.5 254.6 515.9 254.4 516.3 254.1 516.6 253.9 517 253.7 517.4 253.5 517.7 253.2 518.1 253 518.5 252.8 518.8 252.5 519.2 252.3 519.6 252.1 519.9 251.8 520.3 251.6 520.7 251.4 521 251.1 521.4 250.9 521.8 250.7 522.1 250.4 522.5 250.2 522.9 250 523.2 249.8 523.6 249.5 524 249.3 524.3 249.1 524.7 248.8 525.1 248.6 525.4 248.4 525.8 248.2 526.2 247.9 526.5 247.7 526.9 247.5 527.3 247.2 527.6 247 528 246.8 528.4 246.6 528.7 246.3 529.1 246.1 529.4 245.9 529.8 245.7 530.2 245.4 530.5 245.2 530.9 245 531.3 244.8 531.6 244.5 532 244.3 532.4 244.1 532.7 243.9 533.1 243.6 533.5 243.4 533.8 243.2 534.2 243 534.6 242.8 534.9 242.5 535.3 242.3 535.7 242.1 536 241.9 536.4 241.7 536.8 241.4 537.1 241.2 537.5 241 537.9 240.8 538.2 240.6 538.6 240.3 539 240.1 539.3 239.9 539.7 239.7 540.1 239.5 540.4 239.3 540.8 239 541.2 238.8 541.5 238.6 541.9 238.4 542.3 238.2 542.6 238 543 237.8 543.4 237.5 543.7 237.3 544.1 237.1 544.5 236.9 544.8 236.7 545.2 236.5 545.6 236.3 545.9 236.1 546.3 235.9 546.6 235.7 547 235.5 547.4 235.3 547.7 235 548.1 234.8 548.5 234.6 548.8 234.4 549.2 234.2 549.6 234 549.9 233.8 550.3 233.6 550.7 233.4 551 233.2 551.4 233 551.8 232.8 552.1 232.6 552.5 232.4 552.9 232.2 553.2 232.1 553.6 231.9 554 231.7 554.3 231.5 554.7 231.3 555.1 231.1 555.4 230.9 555.8 230.7 556.2 230.5 556.5 230.3 556.9 230.2 557.3 230 557.6 229.8 558 229.6 558.4 229.4 558.7 229.3 559.1 229.1 559.5 228.9 559.8 228.7 560.2 228.5 560.6 228.4 560.9 228.2 561.3 228 561.7 227.9 562 227.7 562.4 227.5 562.8 227.4 563.1 227.2 563.5 227 563.9 226.9 564.2 226.7 564.6 226.6 565 226.4 565.3 226.2 565.7 226.1 566 225.9 566.4 225.8 566.8 225.6 567.1 225.5 567.5 225.4 567.9 225.2 568.2 225.1 568.6 224.9 569 224.8 569.3 224.7 569.7 224.5 570.1 224.4 570.4 224.3 570.8 224.2 571.2 224 571.5 223.9 571.9 223.8 572.3 223.7 572.6 223.6 573 223.5 573.4 223.4 573.7 223.3 574.1 223.2 574.5 223.1 574.8 223 575.2 222.9 575.6 222.8 575.9 222.7 576.3 222.7 576.7 222.6 577 222.5 577.4 222.4 577.8 222.4 578.1 222.3 578.5 222.3 578.9 222.2 579.2 222.2 579.6 222.1 580 222.1 580.3 222 580.7 222 581.1 222 581.4 222 581.8 222 582.2 222 582.5 222 582.9 222 583.2 222 583.6 222 584 222 584.3 222.1 584.7 222.1 585.1 222.1 585.4 222.2 585.8 222.3 586.2 222.3 586.5 222.4 586.9 222.5 587.3 222.6 587.6 222.7 588 222.8 588.4 222.9 588.7 223.1 589.1 223.2 589.5 223.4 589.8 223.5 590.2 223.7 590.6 223.9 590.9 224.1 591.3 224.3 591.7 224.5 592 224.8 592.4 225.1 592.8 225.3 593.1 225.6 593.5 225.9 593.9 226.3 594.2 226.6 594.6 227 595 227.4 595.3 227.8 595.7 228.2 596.1 228.7 596.4 229.2 596.8 229.7 597.2 230.2 597.5 230.8 597.9 231.4 598.3 232 598.6 232.7 599 233.4 599.4 234.1 599.7 234.9 600.1 235.8 600.5 236.6 600.8 237.6 601.2 238.6 601.5 239.6 601.9 240.7 602.3 241.9 602.6 243.2 603 244.5 603.4 245.9 603.7 247.4 604.1 249.1 604.5 250.8 604.8 252.7 605.2 254.7 605.6 256.9 605.9 259.2 606.3 261.8 606.7 264.6 607 267.6 607.4 271 607.8 274.8 608.1 279 608.5 283.7 608.9 289.2 609.2 295.6 609.6 303.3 610 312.9 610.3 325.9 610.7 347.2 611.1 384.1 611.4 384.1 611.8 384.1 612.2 384.1 612.5 384.1 612.9 384.1 613.3 384.1 613.6 384.1 614 384.1 614.4 384.1 614.7 384.1 615.1 384.1 615.5 384.1 615.8 384.1 616.2 384.1 616.6 384.1 616.9 384.1 617.3 384.1 617.7 384.1 618 384.1 618.4 384.1 618.8 384.1 619.1 384.1 619.5 384.1 619.8 384.1 620.2 384.1 620.6 384.1 620.9 384.1 621.3 384.1 621.7 384.1 622 384.1 622.4 384.1 622.8 384.1 623.1 384.1 623.5 384.1 623.9 384.1 624.2 384.1 624.6 384.1 625 384.1 625.3 384.1 625.7 384.1 626.1 384.1 626.4 384.1 626.8 384.1 627.2 384.1 627.5 384.1 627.9 384.1 628.3 384.1 628.6 384.1 629 384.1 629.4 384.1 629.7 384.1 630.1 384.1 630.5 384.1 630.8 384.1 631.2 384.1 631.6 384.1 631.9 384.1 632.3 384.1 632.7 384.1 633 384.1 633.4 384.1 633.8 384.1 634.1 384.1 634.5 384.1 634.9 384.1 635.2 384.1 635.6 384.1 636 384.1 636.3 384.1 636.7 384.1 637.1 384.1 637.4 384.1 637.8 384.1 638.1 384.1 638.5 384.1 638.9 384.1 639.2 384.1 639.6 384.1 640 384.1 640.3 384.1 640.7 384.1 641.1 384.1 641.4 384.1 641.8 384.1 642.2 384.1 642.5 384.1 642.9 384.1 643.3 384.1 643.6 384.1 644 384.1 644.4 384.1 644.7 384.1 645.1 384.1 645.5 384.1 645.8 384.1 646.2 384.1 646.6 384.1 646.9 384.1 647.3 384.1" fill="none" stroke="#ff0000" stroke-width="1.4" marker-start="url(#mB)" marker-mid="url(#mB)" marker-end="url(#mB)"/>
<path d="M391.1 352.6 391.5 352.4 391.8 352.2 392.2 352 392.6 351.8 392.9 351.6 393.3 351.4 393.7 351.2 394 351 394.4 350.8 394.8 350.6 395.1 350.4 395.5 350.2 395.9 350 396.2 349.7 396.6 349.5 397 349.3 397.3 349.1 397.7 348.9 398.1 348.6 398.4 348.4 398.8 348.2 399.2 348 399.5 347.7 399.9 347.5 400.2 347.3 400.6 347 401 346.8 401.3 346.6 401.7 346.3 402.1 346.1 402.4 345.9 402.8 345.6 403.2 345.4 403.5 345.1 403.9 344.9 404.3 344.6 404.6 344.4 405 344.2 405.4 343.9 405.7 343.7 406.1 343.4 406.5 343.1 406.8 342.9 407.2 342.6 407.6 342.4 407.9 342.1 408.3 341.9 408.7 341.6 409 341.3 409.4 341.1 409.8 340.8 410.1 340.5 410.5 340.3 410.9 340 411.2 339.7 411.6 339.5 412 339.2 412.3 338.9 412.7 338.6 413.1 338.4 413.4 338.1 413.8 337.8 414.2 337.5 414.5 337.3 414.9 337 415.3 336.7 415.6 336.4 416 336.1 416.4 335.8 416.7 335.6 417.1 335.3 417.5 335 417.8 334.7 418.2 334.4 418.6 334.1 418.9 333.8 419.3 333.5 419.6 333.2 420 332.9 420.4 332.6 420.7 332.3 421.1 332 421.5 331.7 421.8 331.4 422.2 331.1 422.6 330.8 422.9 330.5 423.3 330.2 423.7 329.9 424 329.6 424.4 329.3 424.8 329 425.1 328.7 425.5 328.4 425.9 328.1 426.2 327.8 426.6 327.4 427 327.1 427.3 326.8 427.7 326.5 428.1 326.2 428.4 325.9 428.8 325.6 429.2 325.2 429.5 324.9 429.9 324.6 430.3 324.3 430.6 323.9 431 323.6 431.4 323.3 431.7 322.9 432.1 322.6 432.5 322.3 432.8 321.9 433.2 321.6 433.6 321.2 433.9 320.8 434.3 320.5 434.7 320.1 435 319.7 435.4 319.4 435.8 319 436.1 318.6 436.5 318.2 436.9 317.8 437.2 317.4 437.6 317 437.9 316.6 438.3 316.1 438.7 315.7 439 315.3 439.4 314.8 439.8 314.3 440.1 313.9 440.5 313.4 440.9 312.9 441.2 312.4 441.6 311.9 442 311.3 442.3 310.8 442.7 310.2 443.1 309.7 443.4 309.1 443.8 308.5 444.2 307.8 444.5 307.2 444.9 306.5 445.3 305.8 445.6 305.1 446 304.4 446.4 303.6 446.7 302.8 447.1 302 447.5 301.2 447.8 300.3 448.2 299.3 448.6 298.2 448.9 298 449.3 297.7 449.7 297.5 450 297.3 450.4 297 450.8 296.8 451.1 296.5 451.5 296.3 451.9 296.1 452.2 295.8 452.6 295.6 453 295.3 453.3 295.1 453.7 294.9 454.1 294.6 454.4 294.4 454.8 294.1 455.1 293.9 455.5 293.7 455.9 293.4 456.2 293.2 456.6 292.9 457 292.7 457.3 292.5 457.7 292.2 458.1 292 458.4 291.7 458.8 291.5 459.2 291.2 459.5 291 459.9 290.8 460.3 290.5 460.6 290.3 461 290 461.4 289.8 461.7 289.6 462.1 289.3 462.5 289.1 462.8 288.8 463.2 288.6 463.6 288.4 463.9 288.1 464.3 287.9 464.7 287.6 465 287.4 465.4 287.2 465.8 286.9 466.1 286.7 466.5 286.4 466.9 286.2 467.2 286 467.6 285.7 468 285.5 468.3 285.2 468.7 285 469.1 284.8 469.4 284.5 469.8 284.3 470.2 284 470.5 283.8 470.9 283.6 471.3 283.3 471.6 283.1 472 282.8 472.4 282.6 472.7 282.4 473.1 282.1 473.4 281.9 473.8 281.7 474.2 281.4 474.5 281.2 474.9 280.9 475.3 280.7 475.6 280.5 476 280.2 476.4 280 476.7 279.7 477.1 279.5 477.5 279.3 477.8 279 478.2 278.8 478.6 278.5 478.9 278.3 479.3 278.1 479.7 277.8 480 277.6 480.4 277.3 480.8 277.1 481.1 276.9 481.5 276.6 481.9 276.4 482.2 276.1 482.6 275.9 483 275.7 483.3 275.4 483.7 275.2 484.1 274.9 484.4 274.7 484.8 274.5 485.2 274.2 485.5 274 485.9 273.8 486.3 273.5 486.6 273.3 487 273 487.4 272.8 487.7 272.6 488.1 272.3 488.5 272.1 488.8 271.8 489.2 271.6 489.6 271.4 489.9 271.1 490.3 270.9 490.7 270.6 491 270.4 491.4 270.2 491.8 269.9 492.1 269.7 492.5 269.5 492.8 269.2 493.2 269 493.6 268.7 493.9 268.5 494.3 268.3 494.7 268 495 267.8 495.4 267.5 495.8 267.3 496.1 267.1 496.5 266.8 496.9 266.6 497.2 266.4 497.6 266.1 498 265.9 498.3 265.6 498.7 265.4 499.1 265.2 499.4 264.9 499.8 264.7 500.2 264.5 500.5 264.2 500.9 264 501.3 263.7 501.6 263.5 502 263.3 502.4 263 502.7 262.8 503.1 262.6 503.5 262.3 503.8 262.1 504.2 261.8 504.6 261.6 504.9 261.4 505.3 261.1 505.7 260.9 506 260.7 506.4 260.4 506.8 260.2 507.1 260 507.5 259.7 507.9 259.5 508.2 259.2 508.6 259 509 258.8 509.3 258.5 509.7 258.3 510.1 258.1 510.4 257.8 510.8 257.6 511.1 257.4 511.5 257.1 511.9 256.9 512.2 256.7 512.6 256.4 513 256.2 513.3 256 513.7 255.7 514.1 255.5 514.4 255.2 514.8 255 515.2 254.8 515.5 254.5 515.9 254.3 516.3 254.1 516.6 253.8 517 253.6 517.4 253.4 517.7 253.1 518.1 252.9 518.5 252.7 518.8 252.4 519.2 252.2 519.6 252 519.9 251.7 520.3 251.5 520.7 251.3 521 251 521.4 250.8 521.8 250.6 522.1 250.3 522.5 250.1 522.9 249.9 523.2 249.6 523.6 249.4 524 249.2 524.3 248.9 524.7 248.7 525.1 248.5 525.4 248.3 525.8 248 526.2 247.8 526.5 247.6 526.9 247.3 527.3 247.1 527.6 246.9 528 246.6 528.4 246.4 528.7 246.2 529.1 246 529.4 245.7 529.8 245.5 530.2 245.3 530.5 245 530.9 244.8 531.3 244.6 531.6 244.4 532 244.1 532.4 243.9 532.7 243.7 533.1 243.4 533.5 243.2 533.8 243 534.2 242.8 534.6 242.5 534.9 242.3 535.3 242.1 535.7 241.9 536 241.6 536.4 241.4 536.8 241.2 537.1 241 537.5 240.7 537.9 240.5 538.2 240.3 538.6 240.1 539 239.8 539.3 239.6 539.7 239.4 540.1 239.2 540.4 238.9 540.8 238.7 541.2 238.5 541.5 238.3 541.9 238.1 542.3 237.8 542.6 237.6 543 237.4 543.4 237.2 543.7 236.9 544.1 236.7 544.5 236.5 544.8 236.3 545.2 236.1 545.6 235.9 545.9 235.6 546.3 235.4 546.6 235.2 547 235 547.4 234.8 547.7 234.6 548.1 234.3 548.5 234.1 548.8 233.9 549.2 233.7 549.6 233.5 549.9 233.3 550.3 233.1 550.7 232.8 551 232.6 551.4 232.4 551.8 232.2 552.1 232 552.5 231.8 552.9 231.6 553.2 231.4 553.6 231.2 554 230.9 554.3 230.7 554.7 230.5 555.1 230.3 555.4 230.1 555.8 229.9 556.2 229.7 556.5 229.5 556.9 229.3 557.3 229.1 557.6 228.9 558 228.7 558.4 228.5 558.7 228.3 559.1 228.1 559.5 227.9 559.8 227.7 560.2 227.5 560.6 227.3 560.9 227.1 561.3 226.9 561.7 226.7 562 226.5 562.4 226.3 562.8 226.1 563.1 225.9 563.5 225.7 563.9 225.6 564.2 225.4 564.6 225.2 565 225 565.3 224.8 565.7 224.6 566 224.4 566.4 224.2 566.8 224.1 567.1 223.9 567.5 223.7 567.9 223.5 568.2 223.3 568.6 223.2 569 223 569.3 222.8 569.7 222.6 570.1 222.5 570.4 222.3 570.8 222.1 571.2 222 571.5 221.8 571.9 221.6 572.3 221.5 572.6 221.3 573 221.1 573.4 221 573.7 220.8 574.1 220.6 574.5 220.5 574.8 220.3 575.2 220.2 575.6 220 575.9 219.9 576.3 219.7 576.7 219.6 577 219.4 577.4 219.3 577.8 219.1 578.1 219 578.5 218.9 578.9 218.7 579.2 218.6 579.6 218.4 580 218.3 580.3 218.2 580.7 218.1 581.1 217.9 581.4 217.8 581.8 217.7 582.2 217.6 582.5 217.5 582.9 217.3 583.2 217.2 583.6 217.1 584 217 584.3 216.9 584.7 216.8 585.1 216.7 585.4 216.6 585.8 216.5 586.2 216.4 586.5 216.3 586.9 216.3 587.3 216.2 587.6 216.1 588 216 588.4 216 588.7 215.9 589.1 215.8 589.5 215.8 589.8 215.7 590.2 215.7 590.6 215.6 590.9 215.6 591.3 215.5 591.7 215.5 592 215.5 592.4 215.4 592.8 215.4 593.1 215.4 593.5 215.4 593.9 215.4 594.2 215.4 594.6 215.4 595 215.4 595.3 215.4 595.7 215.4 596.1 215.5 596.4 215.5 596.8 215.5 597.2 215.6 597.5 215.6 597.9 215.7 598.3 215.8 598.6 215.8 599 215.9 599.4 216 599.7 216.1 600.1 216.2 600.5 216.3 600.8 216.5 601.2 216.6 601.5 216.7 601.9 216.9 602.3 217.1 602.6 217.2 603 217.4 603.4 217.6 603.7 217.8 604.1 218.1 604.5 218.3 604.8 218.5 605.2 218.8 605.6 219.1 605.9 219.4 606.3 219.7 606.7 220 607 220.4 607.4 220.7 607.8 221.1 608.1 221.5 608.5 221.9 608.9 222.4 609.2 222.8 609.6 223.3 610 223.8 610.3 224.4 610.7 224.9 611.1 225.5 611.4 226.1 611.8 226.8 612.2 227.5 612.5 228.2 612.9 229 613.3 229.8 613.6 230.6 614 231.5 614.4 232.4 614.7 233.4 615.1 234.4 615.5 235.5 615.8 236.7 616.2 237.9 616.6 239.2 616.9 240.6 617.3 242 617.7 243.6 618 245.2 618.4 247 618.8 248.9 619.1 250.9 619.5 253 619.8 255.4 620.2 257.9 620.6 260.6 620.9 263.5 621.3 266.8 621.7 270.3 622 274.3 622.4 278.7 622.8 283.6 623.1 289.3 623.5 296 623.9 304 624.2 313.9 624.6 327.5 625 350 625.3 384.1 625.7 384.1 626.1 384.1 626.4 384.1 626.8 384.1 627.2 384.1 627.5 384.1 627.9 384.1 628.3 384.1 628.6 384.1 629 384.1 629.4 384.1 629.7 384.1 630.1 384.1 630.5 384.1 630.8 384.1 631.2 384.1 631.6 384.1 631.9 384.1 632.3 384.1 632.7 384.1 633 384.1 633.4 384.1 633.8 384.1 634.1 384.1 634.5 384.1 634.9 384.1 635.2 384.1 635.6 384.1 636 384.1 636.3 384.1 636.7 384.1 637.1 384.1 637.4 384.1 637.8 384.1 638.1 384.1 638.5 384.1 638.9 384.1 639.2 384.1 639.6 384.1 640 384.1 640.3 384.1 640.7 384.1 641.1 384.1 641.4 384.1 641.8 384.1 642.2 384.1 642.5 384.1 642.9 384.1 643.3 384.1 643.6 384.1 644 384.1 644.4 384.1 644.7 384.1 645.1 384.1 645.5 384.1 645.8 384.1 646.2 384.1 646.6 384.1 646.9 384.1 647.3 384.1" fill="none" stroke="#1f6fe8" stroke-width="1.4" marker-start="url(#mC)" marker-mid="url(#mC)" marker-end="url(#mC)"/>
<path d="M391.1 352.6 391.5 352.4 391.8 352.2 392.2 352 392.6 351.8 392.9 351.6 393.3 351.4 393.7 351.2 394 351 394.4 350.8 394.8 350.6 395.1 350.4 395.5 350.2 395.9 350 396.2 349.7 396.6 349.5 397 349.3 397.3 349.1 397.7 348.9 398.1 348.6 398.4 348.4 398.8 348.2 399.2 348 399.5 347.7 399.9 347.5 400.2 347.3 400.6 347 401 346.8 401.3 346.6 401.7 346.3 402.1 346.1 402.4 345.9 402.8 345.6 403.2 345.4 403.5 345.1 403.9 344.9 404.3 344.6 404.6 344.4 405 344.2 405.4 343.9 405.7 343.7 406.1 343.4 406.5 343.1 406.8 342.9 407.2 342.6 407.6 342.4 407.9 342.1 408.3 341.9 408.7 341.6 409 341.3 409.4 341.1 409.8 340.8 410.1 340.5 410.5 340.3 410.9 340 411.2 339.7 411.6 339.5 412 339.2 412.3 338.9 412.7 338.6 413.1 338.4 413.4 338.1 413.8 337.8 414.2 337.5 414.5 337.3 414.9 337 415.3 336.7 415.6 336.4 416 336.1 416.4 335.8 416.7 335.6 417.1 335.3 417.5 335 417.8 334.7 418.2 334.4 418.6 334.1 418.9 333.8 419.3 333.5 419.6 333.2 420 332.9 420.4 332.6 420.7 332.3 421.1 332 421.5 331.7 421.8 331.4 422.2 331.1 422.6 330.8 422.9 330.5 423.3 330.2 423.7 329.9 424 329.6 424.4 329.3 424.8 329 425.1 328.7 425.5 328.4 425.9 328.1 426.2 327.8 426.6 327.4 427 327.1 427.3 326.8 427.7 326.5 428.1 326.2 428.4 325.9 428.8 325.6 429.2 325.2 429.5 324.9 429.9 324.6 430.3 324.3 430.6 323.9 431 323.6 431.4 323.3 431.7 322.9 432.1 322.6 432.5 322.3 432.8 321.9 433.2 321.6 433.6 321.2 433.9 320.8 434.3 320.5 434.7 320.1 435 319.7 435.4 319.4 435.8 319 436.1 318.6 436.5 318.2 436.9 317.8 437.2 317.4 437.6 317 437.9 316.6 438.3 316.1 438.7 315.7 439 315.3 439.4 314.8 439.8 314.3 440.1 313.9 440.5 313.4 440.9 312.9 441.2 312.4 441.6 311.9 442 311.3 442.3 310.8 442.7 310.2 443.1 309.7 443.4 309.1 443.8 308.5 444.2 307.8 444.5 307.2 444.9 306.5 445.3 305.8 445.6 305.1 446 304.4 446.4 303.6 446.7 302.8 447.1 302 447.5 301.2 447.8 300.3 448.2 299.3 448.6 298.2 448.9 298 449.3 297.7 449.7 297.5 450 297.3 450.4 297 450.8 296.8 451.1 296.5 451.5 296.3 451.9 296.1 452.2 295.8 452.6 295.6 453 295.3 453.3 295.1 453.7 294.9 454.1 294.6 454.4 294.4 454.8 294.1 455.1 293.9 455.5 293.7 455.9 293.4 456.2 293.2 456.6 292.9 457 292.7 457.3 292.5 457.7 292.2 458.1 292 458.4 291.7 458.8 291.5 459.2 291.2 459.5 291 459.9 290.8 460.3 290.5 460.6 290.3 461 290 461.4 289.8 461.7 289.6 462.1 289.3 462.5 289.1 462.8 288.8 463.2 288.6 463.6 288.4 463.9 288.1 464.3 287.9 464.7 287.6 465 287.4 465.4 287.2 465.8 286.9 466.1 286.7 466.5 286.4 466.9 286.2 467.2 286 467.6 285.7 468 285.5 468.3 285.2 468.7 285 469.1 284.8 469.4 284.5 469.8 284.3 470.2 284 470.5 283.8 470.9 283.6 471.3 283.3 471.6 283.1 472 282.8 472.4 282.6 472.7 282.4 473.1 282.1 473.4 281.9 473.8 281.6 474.2 281.4 474.5 281.2 474.9 280.9 475.3 280.7 475.6 280.5 476 280.2 476.4 280 476.7 279.7 477.1 279.5 477.5 279.3 477.8 279 478.2 278.8 478.6 278.5 478.9 278.3 479.3 278.1 479.7 277.8 480 277.6 480.4 277.3 480.8 277.1 481.1 276.9 481.5 276.6 481.9 276.4 482.2 276.1 482.6 275.9 483 275.7 483.3 275.4 483.7 275.2 484.1 274.9 484.4 274.7 484.8 274.5 485.2 274.2 485.5 274 485.9 273.7 486.3 273.5 486.6 273.3 487 273 487.4 272.8 487.7 272.6 488.1 272.3 488.5 272.1 488.8 271.8 489.2 271.6 489.6 271.4 489.9 271.1 490.3 270.9 490.7 270.6 491 270.4 491.4 270.2 491.8 269.9 492.1 269.7 492.5 269.5 492.8 269.2 493.2 269 493.6 268.7 493.9 268.5 494.3 268.3 494.7 268 495 267.8 495.4 267.5 495.8 267.3 496.1 267.1 496.5 266.8 496.9 266.6 497.2 266.4 497.6 266.1 498 265.9 498.3 265.6 498.7 265.4 499.1 265.2 499.4 264.9 499.8 264.7 500.2 264.5 500.5 264.2 500.9 264 501.3 263.7 501.6 263.5 502 263.3 502.4 263 502.7 262.8 503.1 262.6 503.5 262.3 503.8 262.1 504.2 261.8 504.6 261.6 504.9 261.4 505.3 261.1 505.7 260.9 506 260.7 506.4 260.4 506.8 260.2 507.1 260 507.5 259.7 507.9 259.5 508.2 259.2 508.6 259 509 258.8 509.3 258.5 509.7 258.3 510.1 258.1 510.4 257.8 510.8 257.6 511.1 257.4 511.5 257.1 511.9 256.9 512.2 256.6 512.6 256.4 513 256.2 513.3 255.9 513.7 255.7 514.1 255.5 514.4 255.2 514.8 255 515.2 254.8 515.5 254.5 515.9 254.3 516.3 254.1 516.6 253.8 517 253.6 517.4 253.4 517.7 253.1 518.1 252.9 518.5 252.7 518.8 252.4 519.2 252.2 519.6 252 519.9 251.7 520.3 251.5 520.7 251.3 521 251 521.4 250.8 521.8 250.6 522.1 250.3 522.5 250.1 522.9 249.9 523.2 249.6 523.6 249.4 524 249.2 524.3 248.9 524.7 248.7 525.1 248.5 525.4 248.2 525.8 248 526.2 247.8 526.5 247.5 526.9 247.3 527.3 247.1 527.6 246.9 528 246.6 528.4 246.4 528.7 246.2 529.1 245.9 529.4 245.7 529.8 245.5 530.2 245.2 530.5 245 530.9 244.8 531.3 244.6 531.6 244.3 532 244.1 532.4 243.9 532.7 243.6 533.1 243.4 533.5 243.2 533.8 243 534.2 242.7 534.6 242.5 534.9 242.3 535.3 242.1 535.7 241.8 536 241.6 536.4 241.4 536.8 241.1 537.1 240.9 537.5 240.7 537.9 240.5 538.2 240.2 538.6 240 539 239.8 539.3 239.6 539.7 239.4 540.1 239.1 540.4 238.9 540.8 238.7 541.2 238.5 541.5 238.2 541.9 238 542.3 237.8 542.6 237.6 543 237.3 543.4 237.1 543.7 236.9 544.1 236.7 544.5 236.5 544.8 236.2 545.2 236 545.6 235.8 545.9 235.6 546.3 235.4 546.6 235.2 547 234.9 547.4 234.7 547.7 234.5 548.1 234.3 548.5 234.1 548.8 233.9 549.2 233.6 549.6 233.4 549.9 233.2 550.3 233 550.7 232.8 551 232.6 551.4 232.4 551.8 232.1 552.1 231.9 552.5 231.7 552.9 231.5 553.2 231.3 553.6 231.1 554 230.9 554.3 230.7 554.7 230.5 555.1 230.3 555.4 230 555.8 229.8 556.2 229.6 556.5 229.4 556.9 229.2 557.3 229 557.6 228.8 558 228.6 558.4 228.4 558.7 228.2 559.1 228 559.5 227.8 559.8 227.6 560.2 227.4 560.6 227.2 560.9 227 561.3 226.8 561.7 226.6 562 226.4 562.4 226.2 562.8 226 563.1 225.8 563.5 225.6 563.9 225.4 564.2 225.2 564.6 225.1 565 224.9 565.3 224.7 565.7 224.5 566 224.3 566.4 224.1 566.8 223.9 567.1 223.7 567.5 223.6 567.9 223.4 568.2 223.2 568.6 223 569 222.8 569.3 222.7 569.7 222.5 570.1 222.3 570.4 222.1 570.8 222 571.2 221.8 571.5 221.6 571.9 221.4 572.3 221.3 572.6 221.1 573 220.9 573.4 220.8 573.7 220.6 574.1 220.4 574.5 220.3 574.8 220.1 575.2 220 575.6 219.8 575.9 219.6 576.3 219.5 576.7 219.3 577 219.2 577.4 219 577.8 218.9 578.1 218.7 578.5 218.6 578.9 218.5 579.2 218.3 579.6 218.2 580 218 580.3 217.9 580.7 217.8 581.1 217.6 581.4 217.5 581.8 217.4 582.2 217.2 582.5 217.1 582.9 217 583.2 216.9 583.6 216.8 584 216.7 584.3 216.5 584.7 216.4 585.1 216.3 585.4 216.2 585.8 216.1 586.2 216 586.5 215.9 586.9 215.8 587.3 215.7 587.6 215.7 588 215.6 588.4 215.5 588.7 215.4 589.1 215.3 589.5 215.3 589.8 215.2 590.2 215.1 590.6 215.1 590.9 215 591.3 215 591.7 214.9 592 214.9 592.4 214.8 592.8 214.8 593.1 214.8 593.5 214.7 593.9 214.7 594.2 214.7 594.6 214.7 595 214.7 595.3 214.7 595.7 214.7 596.1 214.7 596.4 214.7 596.8 214.7 597.2 214.7 597.5 214.8 597.9 214.8 598.3 214.8 598.6 214.9 599 214.9 599.4 215 599.7 215.1 600.1 215.2 600.5 215.2 600.8 215.3 601.2 215.4 601.5 215.6 601.9 215.7 602.3 215.8 602.6 215.9 603 216.1 603.4 216.3 603.7 216.4 604.1 216.6 604.5 216.8 604.8 217 605.2 217.2 605.6 217.4 605.9 217.7 606.3 217.9 606.7 218.2 607 218.5 607.4 218.8 607.8 219.1 608.1 219.4 608.5 219.8 608.9 220.2 609.2 220.5 609.6 220.9 610 221.4 610.3 221.8 610.7 222.3 611.1 222.8 611.4 223.3 611.8 223.8 612.2 224.4 612.5 225 612.9 225.6 613.3 226.3 613.6 227 614 227.7 614.4 228.5 614.7 229.3 615.1 230.1 615.5 231 615.8 232 616.2 233 616.6 234 616.9 235.1 617.3 236.3 617.7 237.5 618 238.8 618.4 240.2 618.8 241.7 619.1 243.2 619.5 244.9 619.8 246.7 620.2 248.5 620.6 250.6 620.9 252.7 621.3 255.1 621.7 257.6 622 260.3 622.4 263.3 622.8 266.5 623.1 270.1 623.5 274.1 623.9 278.5 624.2 283.5 624.6 289.2 625 295.8 625.3 303.8 625.7 313.8 626.1 327.4 626.4 349.8 626.8 384.1 627.2 384.1 627.5 384.1 627.9 384.1 628.3 384.1 628.6 384.1 629 384.1 629.4 384.1 629.7 384.1 630.1 384.1 630.5 384.1 630.8 384.1 631.2 384.1 631.6 384.1 631.9 384.1 632.3 384.1 632.7 384.1 633 384.1 633.4 384.1 633.8 384.1 634.1 384.1 634.5 384.1 634.9 384.1 635.2 384.1 635.6 384.1 636 384.1 636.3 384.1 636.7 384.1 637.1 384.1 637.4 384.1 637.8 384.1 638.1 384.1 638.5 384.1 638.9 384.1 639.2 384.1 639.6 384.1 640 384.1 640.3 384.1 640.7 384.1 641.1 384.1 641.4 384.1 641.8 384.1 642.2 384.1 642.5 384.1 642.9 384.1 643.3 384.1 643.6 384.1 644 384.1 644.4 384.1 644.7 384.1 645.1 384.1 645.5 384.1 645.8 384.1 646.2 384.1 646.6 384.1 646.9 384.1 647.3 384.1" fill="none" stroke="#108010" stroke-width="1.4" marker-start="url(#mD)" marker-mid="url(#mD)" marker-end="url(#mD)"/>
<path d="M391.1 352.6 391.5 352.4 391.8 352.2 392.2 352 392.6 351.8 392.9 351.6 393.3 351.4 393.7 351.2 394 351 394.4 350.8 394.8 350.6 395.1 350.4 395.5 350.2 395.9 350 396.2 349.7 396.6 349.5 397 349.3 397.3 349.1 397.7 348.9 398.1 348.6 398.4 348.4 398.8 348.2 399.2 348 399.5 347.7 399.9 347.5 400.2 347.3 400.6 347 401 346.8 401.3 346.6 401.7 346.3 402.1 346.1 402.4 345.9 402.8 345.6 403.2 345.4 403.5 345.1 403.9 344.9 404.3 344.6 404.6 344.4 405 344.2 405.4 343.9 405.7 343.7 406.1 343.4 406.5 343.1 406.8 342.9 407.2 342.6 407.6 342.4 407.9 342.1 408.3 341.9 408.7 341.6 409 341.3 409.4 341.1 409.8 340.8 410.1 340.5 410.5 340.3 410.9 340 411.2 339.7 411.6 339.5 412 339.2 412.3 338.9 412.7 338.6 413.1 338.4 413.4 338.1 413.8 337.8 414.2 337.5 414.5 337.3 414.9 337 415.3 336.7 415.6 336.4 416 336.1 416.4 335.8 416.7 335.6 417.1 335.3 417.5 335 417.8 334.7 418.2 334.4 418.6 334.1 418.9 333.8 419.3 333.5 419.6 333.2 420 332.9 420.4 332.6 420.7 332.3 421.1 332 421.5 331.7 421.8 331.4 422.2 331.1 422.6 330.8 422.9 330.5 423.3 330.2 423.7 329.9 424 329.6 424.4 329.3 424.8 329 425.1 328.7 425.5 328.4 425.9 328.1 426.2 327.8 426.6 327.4 427 327.1 427.3 326.8 427.7 326.5 428.1 326.2 428.4 325.9 428.8 325.6 429.2 325.2 429.5 324.9 429.9 324.6 430.3 324.3 430.6 323.9 431 323.6 431.4 323.3 431.7 322.9 432.1 322.6 432.5 322.3 432.8 321.9 433.2 321.6 433.6 321.2 433.9 320.8 434.3 320.5 434.7 320.1 435 319.7 435.4 319.4 435.8 319 436.1 318.6 436.5 318.2 436.9 317.8 437.2 317.4 437.6 317 437.9 316.6 438.3 316.1 438.7 315.7 439 315.3 439.4 314.8 439.8 314.3 440.1 313.9 440.5 313.4 440.9 312.9 441.2 312.4 441.6 311.9 442 311.3 442.3 310.8 442.7 310.2 443.1 309.7 443.4 309.1 443.8 308.5 444.2 307.8 444.5 307.2 444.9 306.5 445.3 305.8 445.6 305.1 446 304.4 446.4 303.6 446.7 302.8 447.1 302 447.5 301.2 447.8 300.3 448.2 299.3 448.6 298.2 448.9 298 449.3 297.7 449.7 297.5 450 297.3 450.4 297 450.8 296.8 451.1 296.5 451.5 296.3 451.9 296.1 452.2 295.8 452.6 295.6 453 295.3 453.3 295.1 453.7 294.9 454.1 294.6 454.4 294.4 454.8 294.1 455.1 293.9 455.5 293.7 455.9 293.4 456.2 293.2 456.6 292.9 457 292.7 457.3 292.5 457.7 292.2 458.1 292 458.4 291.7 458.8 291.5 459.2 291.2 459.5 291 459.9 290.8 460.3 290.5 460.6 290.3 461 290 461.4 289.8 461.7 289.6 462.1 289.3 462.5 289.1 462.8 288.8 463.2 288.6 463.6 288.4 463.9 288.1 464.3 287.9 464.7 287.6 465 287.4 465.4 287.2 465.8 286.9 466.1 286.7 466.5 286.4 466.9 286.2 467.2 286 467.6 285.7 468 285.5 468.3 285.2 468.7 285 469.1 284.8 469.4 284.5 469.8 284.3 470.2 284 470.5 283.8 470.9 283.6 471.3 283.3 471.6 283.1 472 282.9 472.4 282.6 472.7 282.4 473.1 282.1 473.4 281.9 473.8 281.7 474.2 281.4 474.5 281.2 474.9 280.9 475.3 280.7 475.6 280.5 476 280.2 476.4 280 476.7 279.7 477.1 279.5 477.5 279.3 477.8 279 478.2 278.8 478.6 278.5 478.9 278.3 479.3 278.1 479.7 277.8 480 277.6 480.4 277.3 480.8 277.1 481.1 276.9 481.5 276.6 481.9 276.4 482.2 276.1 482.6 275.9 483 275.7 483.3 275.4 483.7 275.2 484.1 274.9 484.4 274.7 484.8 274.5 485.2 274.2 485.5 274 485.9 273.8 486.3 273.5 486.6 273.3 487 273 487.4 272.8 487.7 272.6 488.1 272.3 488.5 272.1 488.8 271.8 489.2 271.6 489.6 271.4 489.9 271.1 490.3 270.9 490.7 270.6 491 270.4 491.4 270.2 491.8 269.9 492.1 269.7 492.5 269.5 492.8 269.2 493.2 269 493.6 268.7 493.9 268.5 494.3 268.3 494.7 268 495 267.8 495.4 267.6 495.8 267.3 496.1 267.1 496.5 266.8 496.9 266.6 497.2 266.4 497.6 266.1 498 265.9 498.3 265.6 498.7 265.4 499.1 265.2 499.4 264.9 499.8 264.7 500.2 264.5 500.5 264.2 500.9 264 501.3 263.8 501.6 263.5 502 263.3 502.4 263 502.7 262.8 503.1 262.6 503.5 262.3 503.8 262.1 504.2 261.9 504.6 261.6 504.9 261.4 505.3 261.1 505.7 260.9 506 260.7 506.4 260.4 506.8 260.2 507.1 260 507.5 259.7 507.9 259.5 508.2 259.3 508.6 259 509 258.8 509.3 258.5 509.7 258.3 510.1 258.1 510.4 257.8 510.8 257.6 511.1 257.4 511.5 257.1 511.9 256.9 512.2 256.7 512.6 256.4 513 256.2 513.3 256 513.7 255.7 514.1 255.5 514.4 255.3 514.8 255 515.2 254.8 515.5 254.6 515.9 254.3 516.3 254.1 516.6 253.8 517 253.6 517.4 253.4 517.7 253.1 518.1 252.9 518.5 252.7 518.8 252.4 519.2 252.2 519.6 252 519.9 251.7 520.3 251.5 520.7 251.3 521 251.1 521.4 250.8 521.8 250.6 522.1 250.4 522.5 250.1 522.9 249.9 523.2 249.7 523.6 249.4 524 249.2 524.3 249 524.7 248.7 525.1 248.5 525.4 248.3 525.8 248 526.2 247.8 526.5 247.6 526.9 247.3 527.3 247.1 527.6 246.9 528 246.7 528.4 246.4 528.7 246.2 529.1 246 529.4 245.7 529.8 245.5 530.2 245.3 530.5 245.1 530.9 244.8 531.3 244.6 531.6 244.4 532 244.1 532.4 243.9 532.7 243.7 533.1 243.5 533.5 243.2 533.8 243 534.2 242.8 534.6 242.6 534.9 242.3 535.3 242.1 535.7 241.9 536 241.7 536.4 241.4 536.8 241.2 537.1 241 537.5 240.8 537.9 240.5 538.2 240.3 538.6 240.1 539 239.9 539.3 239.6 539.7 239.4 540.1 239.2 540.4 239 540.8 238.8 541.2 238.5 541.5 238.3 541.9 238.1 542.3 237.9 542.6 237.6 543 237.4 543.4 237.2 543.7 237 544.1 236.8 544.5 236.6 544.8 236.3 545.2 236.1 545.6 235.9 545.9 235.7 546.3 235.5 546.6 235.2 547 235 547.4 234.8 547.7 234.6 548.1 234.4 548.5 234.2 548.8 234 549.2 233.7 549.6 233.5 549.9 233.3 550.3 233.1 550.7 232.9 551 232.7 551.4 232.5 551.8 232.3 552.1 232.1 552.5 231.8 552.9 231.6 553.2 231.4 553.6 231.2 554 231 554.3 230.8 554.7 230.6 555.1 230.4 555.4 230.2 555.8 230 556.2 229.8 556.5 229.6 556.9 229.4 557.3 229.2 557.6 229 558 228.8 558.4 228.6 558.7 228.4 559.1 228.2 559.5 228 559.8 227.8 560.2 227.6 560.6 227.4 560.9 227.2 561.3 227 561.7 226.8 562 226.6 562.4 226.4 562.8 226.2 563.1 226.1 563.5 225.9 563.9 225.7 564.2 225.5 564.6 225.3 565 225.1 565.3 224.9 565.7 224.8 566 224.6 566.4 224.4 566.8 224.2 567.1 224 567.5 223.9 567.9 223.7 568.2 223.5 568.6 223.3 569 223.2 569.3 223 569.7 222.8 570.1 222.6 570.4 222.5 570.8 222.3 571.2 222.1 571.5 222 571.9 221.8 572.3 221.6 572.6 221.5 573 221.3 573.4 221.2 573.7 221 574.1 220.9 574.5 220.7 574.8 220.6 575.2 220.4 575.6 220.3 575.9 220.1 576.3 220 576.7 219.8 577 219.7 577.4 219.5 577.8 219.4 578.1 219.3 578.5 219.1 578.9 219 579.2 218.9 579.6 218.7 580 218.6 580.3 218.5 580.7 218.4 581.1 218.3 581.4 218.1 581.8 218 582.2 217.9 582.5 217.8 582.9 217.7 583.2 217.6 583.6 217.5 584 217.4 584.3 217.3 584.7 217.2 585.1 217.1 585.4 217 585.8 217 586.2 216.9 586.5 216.8 586.9 216.7 587.3 216.7 587.6 216.6 588 216.5 588.4 216.5 588.7 216.4 589.1 216.4 589.5 216.3 589.8 216.3 590.2 216.2 590.6 216.2 590.9 216.2 591.3 216.2 591.7 216.1 592 216.1 592.4 216.1 592.8 216.1 593.1 216.1 593.5 216.1 593.9 216.1 594.2 216.1 594.6 216.2 595 216.2 595.3 216.2 595.7 216.3 596.1 216.3 596.4 216.4 596.8 216.5 597.2 216.5 597.5 216.6 597.9 216.7 598.3 216.8 598.6 216.9 599 217 599.4 217.1 599.7 217.3 600.1 217.4 600.5 217.5 600.8 217.7 601.2 217.9 601.5 218.1 601.9 218.3 602.3 218.5 602.6 218.7 603 218.9 603.4 219.2 603.7 219.4 604.1 219.7 604.5 220 604.8 220.3 605.2 220.6 605.6 220.9 605.9 221.3 606.3 221.7 606.7 222.1 607 222.5 607.4 222.9 607.8 223.4 608.1 223.8 608.5 224.4 608.9 224.9 609.2 225.4 609.6 226 610 226.6 610.3 227.3 610.7 228 611.1 228.7 611.4 229.4 611.8 230.2 612.2 231.1 612.5 231.9 612.9 232.9 613.3 233.8 613.6 234.9 614 235.9 614.4 237.1 614.7 238.3 615.1 239.6 615.5 241 615.8 242.4 616.2 243.9 616.6 245.6 616.9 247.3 617.3 249.2 617.7 251.2 618 253.3 618.4 255.6 618.8 258.1 619.1 260.8 619.5 263.8 619.8 267 620.2 270.5 620.6 274.5 620.9 278.9 621.3 283.8 621.7 289.5 622 296.1 622.4 304.1 622.8 314.1 623.1 327.6 623.5 350.2 623.9 384.1 624.2 384.1 624.6 384.1 625 384.1 625.3 384.1 625.7 384.1 626.1 384.1 626.4 384.1 626.8 384.1 627.2 384.1 627.5 384.1 627.9 384.1 628.3 384.1 628.6 384.1 629 384.1 629.4 384.1 629.7 384.1 630.1 384.1 630.5 384.1 630.8 384.1 631.2 384.1 631.6 384.1 631.9 384.1 632.3 384.1 632.7 384.1 633 384.1 633.4 384.1 633.8 384.1 634.1 384.1 634.5 384.1 634.9 384.1 635.2 384.1 635.6 384.1 636 384.1 636.3 384.1 636.7 384.1 637.1 384.1 637.4 384.1 637.8 384.1 638.1 384.1 638.5 384.1 638.9 384.1 639.2 384.1 639.6 384.1 640 384.1 640.3 384.1 640.7 384.1 641.1 384.1 641.4 384.1 641.8 384.1 642.2 384.1 642.5 384.1 642.9 384.1 643.3 384.1 643.6 384.1 644 384.1 644.4 384.1 644.7 384.1 645.1 384.1 645.5 384.1 645.8 384.1 646.2 384.1 646.6 384.1 646.9 384.1 647.3 384.1" fill="none" stroke="#800000" stroke-width="1.4" marker-start="url(#mE)" marker-mid="url(#mE)" marker-end="url(#mE)"/>
</g>
<text x="180.75" y="231.8" text-anchor="middle" style="font-family:'Liberation Serif',serif;font-weight:bold;font-size:18px">Voltage (V)</text>
<text x="506.2" y="428.1" text-anchor="middle" textLength="135" lengthAdjust="spacingAndGlyphs" style="font-family:'Liberation Serif',serif;font-weight:bold;font-size:18px">Wavelength (nm)</text>
<text transform="translate(347.6,171.6) rotate(-90)" style="font-family:'Liberation Serif',serif;font-weight:bold;font-size:18px">Ext. Quant. Eff (%)</text>
<text transform="translate(347.5,376.2) rotate(-90)" style="font-family:'Liberation Serif',serif;font-weight:bold;font-size:18px">Spectral Resp. (A/W)</text>
<text transform="translate(15.2,143.6) rotate(-90)" style="font-family:'Liberation Serif',serif;font-weight:bold;font-size:17px">J<tspan dy="4.6" style="font-size:11px">SC</tspan><tspan dy="-4.6"> (mA/cm</tspan><tspan dy="-6.5" style="font-size:11px">2</tspan><tspan dy="6.5">)</tspan></text>
<text x="280.6" y="28.8" style="font-family:'Liberation Serif',serif;font-weight:bold;font-size:21px">(a)</text>
<text x="617.8" y="26.8" style="font-family:'Liberation Serif',serif;font-weight:bold;font-size:21px">(b)</text>
<text x="619.9" y="226.3" style="font-family:'Liberation Serif',serif;font-weight:bold;font-size:21px">(c)</text>
<line x1="59.9" y1="53.0" x2="86.2" y2="53.0" stroke="#000000" stroke-width="1.3"/>
<rect x="71" y="50.9" width="4.2" height="4.2" fill="#000000"/>
<text x="89.8" y="56.9" fill="#000000" style="font-family:'Liberation Serif',serif;font-weight:bold;font-size:11.8px">D<tspan dy="3" style="font-size:7.8px">s</tspan><tspan dy="-3"> (A)</tspan></text>
<line x1="59.9" y1="70.4" x2="86.2" y2="70.4" stroke="#ff0000" stroke-width="1.3"/>
<circle cx="73.1" cy="70.4" r="2.6" fill="#ff0000"/>
<text x="89.8" y="74.3" fill="#ff0000" style="font-family:'Liberation Serif',serif;font-weight:bold;font-size:11.8px">D<tspan dy="3" style="font-size:7.8px">s</tspan><tspan dy="-3"> (B)</tspan></text>
<line x1="59.9" y1="87.8" x2="86.2" y2="87.8" stroke="#1f6fe8" stroke-width="1.3"/>
<path d="M73.1 84.8L76.1 90.2L70.1 90.2Z" fill="#0000ff"/>
<text x="89.8" y="91.7" fill="#0000ff" style="font-family:'Liberation Serif',serif;font-weight:bold;font-size:11.8px">D<tspan dy="3" style="font-size:7.8px">s</tspan><tspan dy="-3"> (C)</tspan></text>
<line x1="59.9" y1="105.2" x2="86.2" y2="105.2" stroke="#108010" stroke-width="1.3"/>
<path d="M73.1 108.2L76.1 102.8L70.1 102.8Z" fill="#008000"/>
<text x="89.8" y="109.1" fill="#008000" style="font-family:'Liberation Serif',serif;font-weight:bold;font-size:11.8px">D<tspan dy="3" style="font-size:7.8px">s</tspan><tspan dy="-3"> (D)</tspan></text>
<line x1="59.9" y1="122.6" x2="86.2" y2="122.6" stroke="#800000" stroke-width="1.3"/>
<path d="M73.1 119.5L75.58 122.6L73.1 125.7L70.62 122.6Z" fill="#800000"/>
<text x="89.8" y="126.5" fill="#800000" style="font-family:'Liberation Serif',serif;font-weight:bold;font-size:11.8px">D<tspan dy="3" style="font-size:7.8px">s</tspan><tspan dy="-3"> (E)</tspan></text>
</svg></body></html>
